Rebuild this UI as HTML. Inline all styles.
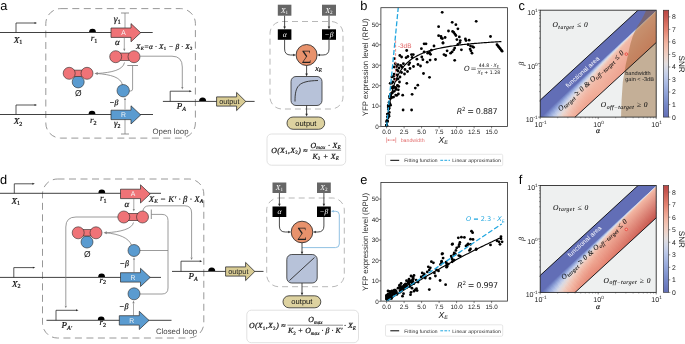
<!DOCTYPE html>
<html><head><meta charset="utf-8"><title>figure</title>
<style>html,body{margin:0;padding:0;background:#fff}svg{display:block;will-change:transform}text{text-rendering:geometricPrecision}</style></head>
<body>
<svg width="685" height="344" viewBox="0 0 685 344">
<rect width="685" height="344" fill="#fff"/>
<text x="0.30" y="10.30" font-family='"Liberation Sans", Arial, Helvetica, sans-serif' font-size="12.8" fill="#000" text-anchor="start"  >a</text>
<rect x="45.80" y="8.60" width="149.60" height="129.50" fill="none" stroke="#7d7d7d" stroke-width="0.8" rx="15" stroke-dasharray="7 4.5"/>
<line x1="0.00" y1="32.50" x2="152.70" y2="32.50" stroke="#2b2b2b" stroke-width="0.9" />
<line x1="0.00" y1="114.50" x2="153.00" y2="114.50" stroke="#2b2b2b" stroke-width="0.9" />
<path d="M16.00,32.50 V23.00 H35.50" stroke="#2b2b2b" stroke-width="0.8" fill="none" />
<polygon points="37.00,23.00 34.59,23.96 34.59,22.04" fill="#2b2b2b"/>
<path d="M16.00,114.50 V105.00 H35.50" stroke="#2b2b2b" stroke-width="0.8" fill="none" />
<polygon points="37.00,105.00 34.59,105.96 34.59,104.04" fill="#2b2b2b"/>
<text x="13.80" y="42.60" font-family='"Liberation Serif", "DejaVu Serif", serif' font-size="9.0" fill="#111" text-anchor="start" font-style="italic"  stroke="#111" stroke-width="0.2">X<tspan dy="1.8" font-size="68%" font-style="normal">1</tspan><tspan dy="-1.8" font-size="1">&#8203;</tspan></text>
<text x="13.80" y="123.80" font-family='"Liberation Serif", "DejaVu Serif", serif' font-size="9.0" fill="#111" text-anchor="start" font-style="italic"  stroke="#111" stroke-width="0.2">X<tspan dy="1.8" font-size="68%" font-style="normal">2</tspan><tspan dy="-1.8" font-size="1">&#8203;</tspan></text>
<path d="M89.10,32.10 A3.4,3.4 0 0 1 95.90,32.10 Z" fill="#000"/>
<path d="M88.60,114.10 A3.4,3.4 0 0 1 95.40,114.10 Z" fill="#000"/>
<text x="90.70" y="41.00" font-family='"Liberation Serif", "DejaVu Serif", serif' font-size="9.0" fill="#111" text-anchor="start" font-style="italic"  stroke="#111" stroke-width="0.2">r<tspan dy="1.8" font-size="68%" font-style="normal">1</tspan><tspan dy="-1.8" font-size="1">&#8203;</tspan></text>
<text x="90.00" y="123.00" font-family='"Liberation Serif", "DejaVu Serif", serif' font-size="9.0" fill="#111" text-anchor="start" font-style="italic"  stroke="#111" stroke-width="0.2">r<tspan dy="1.8" font-size="68%" font-style="normal">2</tspan><tspan dy="-1.8" font-size="1">&#8203;</tspan></text>
<line x1="125.00" y1="13.00" x2="125.00" y2="28.00" stroke="#777" stroke-width="0.7" />
<line x1="121.00" y1="13.00" x2="129.00" y2="13.00" stroke="#777" stroke-width="0.8" />
<line x1="125.00" y1="119.00" x2="125.00" y2="134.00" stroke="#777" stroke-width="0.7" />
<line x1="121.00" y1="134.00" x2="129.00" y2="134.00" stroke="#777" stroke-width="0.8" />
<text x="113.80" y="21.80" font-family='"Liberation Serif", "DejaVu Serif", serif' font-size="9.6" fill="#111" text-anchor="start" font-style="italic"  stroke="#111" stroke-width="0.2">γ<tspan dy="1.8" font-size="68%" font-style="normal">1</tspan><tspan dy="-1.8" font-size="1">&#8203;</tspan></text>
<text x="114.00" y="126.30" font-family='"Liberation Serif", "DejaVu Serif", serif' font-size="8.8" fill="#111" text-anchor="start" font-style="italic"  stroke="#111" stroke-width="0.2">γ<tspan dy="1.8" font-size="68%" font-style="normal">2</tspan><tspan dy="-1.8" font-size="1">&#8203;</tspan></text>
<polygon points="111.00,28.00 131.00,28.00 131.00,23.60 140.70,32.70 131.00,41.80 131.00,37.40 111.00,37.40" fill="#ef7377" stroke="#2b2b2b" stroke-width="0.7" stroke-linejoin="miter"/>
<text x="123.50" y="35.10" font-family='"Liberation Sans", Arial, Helvetica, sans-serif' font-size="6.8" fill="#f4f4f4" text-anchor="middle"  >A</text>
<polygon points="111.00,110.20 131.00,110.20 131.00,105.80 140.70,114.90 131.00,124.00 131.00,119.60 111.00,119.60" fill="#5a9bd0" stroke="#2b2b2b" stroke-width="0.7" stroke-linejoin="miter"/>
<text x="123.50" y="117.30" font-family='"Liberation Sans", Arial, Helvetica, sans-serif' font-size="6.8" fill="#f4f4f4" text-anchor="middle"  >R</text>
<line x1="124.30" y1="37.50" x2="124.30" y2="49.00" stroke="#828282" stroke-width="0.7" />
<polygon points="124.30,51.30 123.16,48.74 125.44,48.74" fill="#828282"/>
<text x="115.00" y="45.00" font-family='"Liberation Serif", "DejaVu Serif", serif' font-size="9.0" fill="#111" text-anchor="start" font-style="italic"  stroke="#111" stroke-width="0.2">α</text>
<path d="M124.5,62.5 C123,70 112,72.5 97,73.5" stroke="#828282" stroke-width="0.8" fill="none" />
<path d="M122.5,85 C121,77 110,74.5 97,73.5" stroke="#828282" stroke-width="0.8" fill="none" />
<polygon points="94.50,73.50 97.74,71.93 97.74,75.07" fill="#828282"/>
<rect x="120.50" y="53.00" width="8.70" height="7.40" fill="#ef7377" stroke="#2b2b2b" stroke-width="0.6" rx="0" />
<circle cx="115.70" cy="56.70" r="6.00" fill="#ef7377" stroke="#2b2b2b" stroke-width="0.6"/>
<circle cx="134.00" cy="56.70" r="6.00" fill="#ef7377" stroke="#2b2b2b" stroke-width="0.6"/>
<text x="136.10" y="48.60" font-family='"Liberation Serif", "DejaVu Serif", serif' font-size="7.3" fill="#111" text-anchor="start" font-style="italic" textLength="56.4" stroke="#111" stroke-width="0.2">X<tspan dy="1.3" font-size="65%">E</tspan><tspan dy="-1.3" font-size="1">&#8203;</tspan>=α · X<tspan dy="1.3" font-size="65%" font-style="normal">1</tspan><tspan dy="-1.3" font-size="1">&#8203;</tspan> − β · X<tspan dy="1.3" font-size="65%" font-style="normal">2</tspan><tspan dy="-1.3" font-size="1">&#8203;</tspan></text>
<path d="M139,56.2 H172 Q182.3,56.2 182.3,67 V87" stroke="#828282" stroke-width="0.8" fill="none" />
<polygon points="182.30,89.60 181.16,87.04 183.44,87.04" fill="#828282"/>
<path d="M128.6,91 H130.5 Q132.6,91 132.6,89 V65.5" stroke="#828282" stroke-width="0.8" fill="none" />
<line x1="127.30" y1="65.50" x2="138.00" y2="65.50" stroke="#828282" stroke-width="0.9" />
<circle cx="123.20" cy="90.70" r="6.20" fill="#5a9bd0" stroke="#2b2b2b" stroke-width="0.6"/>
<line x1="125.00" y1="109.50" x2="125.00" y2="100.00" stroke="#828282" stroke-width="0.7" />
<polygon points="125.00,97.50 126.14,100.06 123.86,100.06" fill="#828282"/>
<text x="109.30" y="104.50" font-family='"Liberation Serif", "DejaVu Serif", serif' font-size="7.8" fill="#111" text-anchor="start" font-style="italic"  stroke="#111" stroke-width="0.2">−β</text>
<circle cx="78.20" cy="81.90" r="6.00" fill="#5a9bd0" stroke="#2b2b2b" stroke-width="0.6"/>
<rect x="74.00" y="70.10" width="8.20" height="6.40" fill="#ef7377" stroke="#2b2b2b" stroke-width="0.6" rx="0" />
<circle cx="69.20" cy="73.30" r="6.00" fill="#ef7377" stroke="#2b2b2b" stroke-width="0.6"/>
<circle cx="87.00" cy="73.30" r="6.00" fill="#ef7377" stroke="#2b2b2b" stroke-width="0.6"/>
<text x="78.30" y="96.30" font-family='"Liberation Sans", Arial, Helvetica, sans-serif' font-size="8.5" fill="#111" text-anchor="middle"  >Ø</text>
<line x1="162.90" y1="101.40" x2="254.60" y2="101.40" stroke="#2b2b2b" stroke-width="0.9" />
<path d="M170.20,101.40 V91.20 H190.30" stroke="#2b2b2b" stroke-width="0.8" fill="none" />
<polygon points="191.80,91.20 189.39,92.16 189.39,90.24" fill="#2b2b2b"/>
<text x="176.80" y="109.30" font-family='"Liberation Serif", "DejaVu Serif", serif' font-size="9.0" fill="#111" text-anchor="start" font-style="italic"  stroke="#111" stroke-width="0.2">P<tspan dy="1.8" font-size="68%">A</tspan><tspan dy="-1.8" font-size="1">&#8203;</tspan></text>
<path d="M199.10,101.00 A3.5,3.5 0 0 1 206.10,101.00 Z" fill="#000"/>
<polygon points="216.60,96.90 236.60,96.90 236.60,92.40 245.80,101.50 236.60,110.60 236.60,106.10 216.60,106.10" fill="#d9cc94" stroke="#2b2b2b" stroke-width="0.8"/>
<text x="229.30" y="103.90" font-family='"Liberation Sans", Arial, Helvetica, sans-serif' font-size="7.3" fill="#222" text-anchor="middle"  >output</text>
<text x="152.50" y="134.00" font-family='"Liberation Sans", Arial, Helvetica, sans-serif' font-size="7.8" fill="#444" text-anchor="start"  >Open loop</text>
<rect x="270.00" y="21.50" width="73.00" height="87.50" fill="none" stroke="#9a9a9a" stroke-width="0.7" rx="12" stroke-dasharray="6 4"/>
<rect x="277.80" y="4.70" width="13.60" height="11.00" fill="#666" stroke="none" stroke-width="0.6" rx="0" />
<text x="284.60" y="12.60" font-family='"Liberation Serif", "DejaVu Serif", serif' font-size="7.5" fill="#fff" text-anchor="middle" font-style="italic" >X<tspan dy="1.3" font-size="68%" font-style="normal">1</tspan><tspan dy="-1.3" font-size="1">&#8203;</tspan></text>
<rect x="322.00" y="4.70" width="14.00" height="11.00" fill="#666" stroke="none" stroke-width="0.6" rx="0" />
<text x="329.00" y="12.60" font-family='"Liberation Serif", "DejaVu Serif", serif' font-size="7.5" fill="#fff" text-anchor="middle" font-style="italic" >X<tspan dy="1.3" font-size="68%" font-style="normal">2</tspan><tspan dy="-1.3" font-size="1">&#8203;</tspan></text>
<rect x="277.80" y="29.30" width="13.60" height="10.50" fill="#000" stroke="none" stroke-width="0.6" rx="0" />
<text x="284.60" y="36.95" font-family='"Liberation Serif", "DejaVu Serif", serif' font-size="7.5" fill="#fff" text-anchor="middle" font-style="italic" >α</text>
<rect x="322.00" y="29.30" width="14.00" height="10.50" fill="#000" stroke="none" stroke-width="0.6" rx="0" />
<text x="329.00" y="36.95" font-family='"Liberation Serif", "DejaVu Serif", serif' font-size="7.5" fill="#fff" text-anchor="middle" font-style="italic" >−β</text>
<line x1="284.60" y1="15.70" x2="284.60" y2="27.00" stroke="#2b2b2b" stroke-width="0.85" />
<polygon points="284.60,29.30 283.34,26.47 285.86,26.47" fill="#2b2b2b"/>
<line x1="329.00" y1="15.70" x2="329.00" y2="27.00" stroke="#2b2b2b" stroke-width="0.85" />
<polygon points="329.00,29.30 327.74,26.47 330.26,26.47" fill="#2b2b2b"/>
<path d="M284.6,39.8 V49 Q284.6,55 290.6,55 H293.5" stroke="#2b2b2b" stroke-width="0.85" fill="none" />
<polygon points="296.00,55.00 293.17,56.26 293.17,53.74" fill="#2b2b2b"/>
<path d="M329,39.8 V49 Q329,55 323,55 H319.6" stroke="#2b2b2b" stroke-width="0.85" fill="none" />
<polygon points="317.20,55.00 320.03,53.74 320.03,56.26" fill="#2b2b2b"/>
<circle cx="306.60" cy="55.00" r="10.50" fill="#e8926c" stroke="#2b2b2b" stroke-width="0.85"/>
<text x="306.60" y="60.00" font-family='"Liberation Serif", "DejaVu Serif", serif' font-size="14" fill="#222" text-anchor="middle"  >∑</text>
<line x1="306.60" y1="65.50" x2="306.60" y2="74.00" stroke="#2b2b2b" stroke-width="0.85" />
<polygon points="306.60,76.40 305.34,73.57 307.86,73.57" fill="#2b2b2b"/>
<text x="315.30" y="70.80" font-family='"Liberation Serif", "DejaVu Serif", serif' font-size="8" fill="#111" text-anchor="start" font-style="italic"  stroke="#111" stroke-width="0.2">x<tspan dy="1.3" font-size="65%">E</tspan><tspan dy="-1.3" font-size="1">&#8203;</tspan></text>
<rect x="291.00" y="76.50" width="31.00" height="29.00" fill="#b7c2d9" stroke="#2b2b2b" stroke-width="0.8" rx="5" />
<path d="M295,101.5 C295,86 298,81 318,80.5" stroke="#2b2b2b" stroke-width="0.9" fill="none" />
<line x1="306.60" y1="105.50" x2="306.60" y2="114.00" stroke="#2b2b2b" stroke-width="0.85" />
<polygon points="306.60,116.50 305.34,113.67 307.86,113.67" fill="#2b2b2b"/>
<rect x="287.00" y="117.00" width="37.70" height="12.30" fill="#ddd2a0" stroke="#2b2b2b" stroke-width="0.8" rx="6.1" />
<text x="305.90" y="125.60" font-family='"Liberation Sans", Arial, Helvetica, sans-serif' font-size="7.6" fill="#111" text-anchor="middle"  >output</text>
<rect x="267.00" y="134.00" width="78.70" height="31.20" fill="#fff" stroke="#d9d9d9" stroke-width="0.8" rx="4.5" />
<text x="271.30" y="152.80" font-family='"Liberation Serif", "DejaVu Serif", serif' font-size="7.8" fill="#111" text-anchor="start" font-style="italic" textLength="36.3" stroke="#111" stroke-width="0.2">O(X<tspan dy="1.4" font-size="65%" font-style="normal">1</tspan><tspan dy="-1.4" font-size="1">&#8203;</tspan>,X<tspan dy="1.4" font-size="65%" font-style="normal">2</tspan><tspan dy="-1.4" font-size="1">&#8203;</tspan>) ≈</text>
<line x1="310.20" y1="150.20" x2="341.10" y2="150.20" stroke="#222" stroke-width="0.5" />
<text x="325.70" y="147.60" font-family='"Liberation Serif", "DejaVu Serif", serif' font-size="7.8" fill="#111" text-anchor="middle" font-style="italic" textLength="30.5" stroke="#111" stroke-width="0.2">O<tspan dy="1.3" font-size="65%">max</tspan><tspan dy="-1.3" font-size="1">&#8203;</tspan> · X<tspan dy="1.3" font-size="65%">E</tspan><tspan dy="-1.3" font-size="1">&#8203;</tspan></text>
<text x="325.70" y="158.60" font-family='"Liberation Serif", "DejaVu Serif", serif' font-size="7.8" fill="#111" text-anchor="middle" font-style="italic" textLength="26.5" stroke="#111" stroke-width="0.2">K<tspan dy="1.3" font-size="65%" font-style="normal">2</tspan><tspan dy="-1.3" font-size="1">&#8203;</tspan> + X<tspan dy="1.3" font-size="65%">E</tspan><tspan dy="-1.3" font-size="1">&#8203;</tspan></text>
<text x="360.20" y="9.60" font-family='"Liberation Sans", Arial, Helvetica, sans-serif' font-size="12.8" fill="#000" text-anchor="start"  >b</text>
<clipPath id="clipb"><rect x="380.9" y="7.7" width="126.70000000000005" height="118.7"/></clipPath>
<line x1="386.60" y1="126.40" x2="386.60" y2="128.40" stroke="#2b2b2b" stroke-width="0.6" />
<text x="386.60" y="134.30" font-family='"Liberation Sans", Arial, Helvetica, sans-serif' font-size="6.3" fill="#222" text-anchor="middle"  >0.0</text>
<line x1="404.10" y1="126.40" x2="404.10" y2="128.40" stroke="#2b2b2b" stroke-width="0.6" />
<text x="404.10" y="134.30" font-family='"Liberation Sans", Arial, Helvetica, sans-serif' font-size="6.3" fill="#222" text-anchor="middle"  >2.5</text>
<line x1="421.60" y1="126.40" x2="421.60" y2="128.40" stroke="#2b2b2b" stroke-width="0.6" />
<text x="421.60" y="134.30" font-family='"Liberation Sans", Arial, Helvetica, sans-serif' font-size="6.3" fill="#222" text-anchor="middle"  >5.0</text>
<line x1="439.10" y1="126.40" x2="439.10" y2="128.40" stroke="#2b2b2b" stroke-width="0.6" />
<text x="439.10" y="134.30" font-family='"Liberation Sans", Arial, Helvetica, sans-serif' font-size="6.3" fill="#222" text-anchor="middle"  >7.5</text>
<line x1="456.60" y1="126.40" x2="456.60" y2="128.40" stroke="#2b2b2b" stroke-width="0.6" />
<text x="456.60" y="134.30" font-family='"Liberation Sans", Arial, Helvetica, sans-serif' font-size="6.3" fill="#222" text-anchor="middle"  >10.0</text>
<line x1="474.10" y1="126.40" x2="474.10" y2="128.40" stroke="#2b2b2b" stroke-width="0.6" />
<text x="474.10" y="134.30" font-family='"Liberation Sans", Arial, Helvetica, sans-serif' font-size="6.3" fill="#222" text-anchor="middle"  >12.5</text>
<line x1="491.60" y1="126.40" x2="491.60" y2="128.40" stroke="#2b2b2b" stroke-width="0.6" />
<text x="491.60" y="134.30" font-family='"Liberation Sans", Arial, Helvetica, sans-serif' font-size="6.3" fill="#222" text-anchor="middle"  >15.0</text>
<line x1="378.90" y1="126.60" x2="380.90" y2="126.60" stroke="#2b2b2b" stroke-width="0.6" />
<text x="378.70" y="128.90" font-family='"Liberation Sans", Arial, Helvetica, sans-serif' font-size="6.3" fill="#222" text-anchor="end"  >0</text>
<line x1="378.90" y1="106.15" x2="380.90" y2="106.15" stroke="#2b2b2b" stroke-width="0.6" />
<text x="378.70" y="108.45" font-family='"Liberation Sans", Arial, Helvetica, sans-serif' font-size="6.3" fill="#222" text-anchor="end"  >10</text>
<line x1="378.90" y1="85.70" x2="380.90" y2="85.70" stroke="#2b2b2b" stroke-width="0.6" />
<text x="378.70" y="88.00" font-family='"Liberation Sans", Arial, Helvetica, sans-serif' font-size="6.3" fill="#222" text-anchor="end"  >20</text>
<line x1="378.90" y1="65.25" x2="380.90" y2="65.25" stroke="#2b2b2b" stroke-width="0.6" />
<text x="378.70" y="67.55" font-family='"Liberation Sans", Arial, Helvetica, sans-serif' font-size="6.3" fill="#222" text-anchor="end"  >30</text>
<line x1="378.90" y1="44.80" x2="380.90" y2="44.80" stroke="#2b2b2b" stroke-width="0.6" />
<text x="378.70" y="47.10" font-family='"Liberation Sans", Arial, Helvetica, sans-serif' font-size="6.3" fill="#222" text-anchor="end"  >40</text>
<line x1="378.90" y1="24.35" x2="380.90" y2="24.35" stroke="#2b2b2b" stroke-width="0.6" />
<text x="378.70" y="26.65" font-family='"Liberation Sans", Arial, Helvetica, sans-serif' font-size="6.3" fill="#222" text-anchor="end"  >50</text>
<g clip-path="url(#clipb)" fill="#000">
<circle cx="392.5" cy="92.7" r="1.4"/>
<circle cx="398.1" cy="78.8" r="1.4"/>
<circle cx="386.6" cy="125.2" r="1.4"/>
<circle cx="392.9" cy="81.9" r="1.4"/>
<circle cx="390.4" cy="94.1" r="1.4"/>
<circle cx="391.8" cy="83.2" r="1.4"/>
<circle cx="388.2" cy="107.1" r="1.4"/>
<circle cx="387.3" cy="120.7" r="1.4"/>
<circle cx="392.4" cy="87.1" r="1.4"/>
<circle cx="396.7" cy="69.9" r="1.4"/>
<circle cx="398.4" cy="94.0" r="1.4"/>
<circle cx="387.6" cy="114.1" r="1.4"/>
<circle cx="389.1" cy="102.3" r="1.4"/>
<circle cx="386.8" cy="121.9" r="1.4"/>
<circle cx="388.5" cy="109.3" r="1.4"/>
<circle cx="388.6" cy="115.9" r="1.4"/>
<circle cx="386.7" cy="125.2" r="1.4"/>
<circle cx="394.5" cy="79.1" r="1.4"/>
<circle cx="395.2" cy="87.5" r="1.4"/>
<circle cx="386.6" cy="126.1" r="1.4"/>
<circle cx="389.0" cy="116.3" r="1.4"/>
<circle cx="386.9" cy="121.4" r="1.4"/>
<circle cx="397.6" cy="85.8" r="1.4"/>
<circle cx="391.4" cy="93.4" r="1.4"/>
<circle cx="387.4" cy="116.8" r="1.4"/>
<circle cx="393.5" cy="76.3" r="1.4"/>
<circle cx="386.7" cy="125.4" r="1.4"/>
<circle cx="389.6" cy="97.9" r="1.4"/>
<circle cx="395.9" cy="89.6" r="1.4"/>
<circle cx="386.7" cy="125.5" r="1.4"/>
<circle cx="390.7" cy="94.4" r="1.4"/>
<circle cx="387.2" cy="121.3" r="1.4"/>
<circle cx="390.2" cy="83.3" r="1.4"/>
<circle cx="398.7" cy="86.4" r="1.4"/>
<circle cx="394.2" cy="91.3" r="1.4"/>
<circle cx="389.6" cy="96.2" r="1.4"/>
<circle cx="390.7" cy="96.4" r="1.4"/>
<circle cx="388.2" cy="115.0" r="1.4"/>
<circle cx="389.1" cy="107.0" r="1.4"/>
<circle cx="393.6" cy="97.1" r="1.4"/>
<circle cx="389.1" cy="108.3" r="1.4"/>
<circle cx="390.6" cy="98.4" r="1.4"/>
<circle cx="388.4" cy="105.2" r="1.4"/>
<circle cx="391.9" cy="76.9" r="1.4"/>
<circle cx="388.0" cy="117.8" r="1.4"/>
<circle cx="395.7" cy="95.1" r="1.4"/>
<circle cx="388.9" cy="115.1" r="1.4"/>
<circle cx="395.9" cy="88.2" r="1.4"/>
<circle cx="396.7" cy="95.4" r="1.4"/>
<circle cx="398.3" cy="89.8" r="1.4"/>
<circle cx="387.3" cy="121.8" r="1.4"/>
<circle cx="390.5" cy="105.2" r="1.4"/>
<circle cx="394.2" cy="67.0" r="1.4"/>
<circle cx="391.9" cy="97.5" r="1.4"/>
<circle cx="392.5" cy="88.3" r="1.4"/>
<circle cx="394.1" cy="74.1" r="1.4"/>
<circle cx="390.0" cy="103.9" r="1.4"/>
<circle cx="393.5" cy="86.5" r="1.4"/>
<circle cx="390.4" cy="96.0" r="1.4"/>
<circle cx="387.1" cy="120.3" r="1.4"/>
<circle cx="387.5" cy="114.1" r="1.4"/>
<circle cx="389.3" cy="112.4" r="1.4"/>
<circle cx="442.2" cy="12.3" r="1.4"/>
<circle cx="438.6" cy="26.7" r="1.4"/>
<circle cx="438.6" cy="35.7" r="1.4"/>
<circle cx="441.3" cy="38.1" r="1.4"/>
<circle cx="443.0" cy="42.9" r="1.4"/>
<circle cx="424.1" cy="43.8" r="1.4"/>
<circle cx="426.0" cy="43.8" r="1.4"/>
<circle cx="421.4" cy="48.7" r="1.4"/>
<circle cx="406.7" cy="50.5" r="1.4"/>
<circle cx="434.0" cy="46.0" r="1.4"/>
<circle cx="431.4" cy="50.1" r="1.4"/>
<circle cx="429.5" cy="52.5" r="1.4"/>
<circle cx="424.1" cy="52.0" r="1.4"/>
<circle cx="427.7" cy="53.2" r="1.4"/>
<circle cx="430.5" cy="54.3" r="1.4"/>
<circle cx="399.8" cy="55.5" r="1.4"/>
<circle cx="401.6" cy="57.0" r="1.4"/>
<circle cx="406.1" cy="57.7" r="1.4"/>
<circle cx="407.9" cy="56.5" r="1.4"/>
<circle cx="411.5" cy="54.6" r="1.4"/>
<circle cx="413.3" cy="54.6" r="1.4"/>
<circle cx="412.1" cy="57.4" r="1.4"/>
<circle cx="416.9" cy="59.2" r="1.4"/>
<circle cx="421.8" cy="57.0" r="1.4"/>
<circle cx="422.9" cy="59.7" r="1.4"/>
<circle cx="394.4" cy="58.6" r="1.4"/>
<circle cx="427.2" cy="62.2" r="1.4"/>
<circle cx="430.1" cy="60.1" r="1.4"/>
<circle cx="435.5" cy="59.5" r="1.4"/>
<circle cx="444.0" cy="54.6" r="1.4"/>
<circle cx="395.3" cy="63.7" r="1.4"/>
<circle cx="398.0" cy="64.6" r="1.4"/>
<circle cx="400.7" cy="65.5" r="1.4"/>
<circle cx="403.4" cy="63.7" r="1.4"/>
<circle cx="409.7" cy="62.8" r="1.4"/>
<circle cx="408.8" cy="64.6" r="1.4"/>
<circle cx="423.5" cy="73.5" r="1.4"/>
<circle cx="429.5" cy="77.3" r="1.4"/>
<circle cx="406.8" cy="83.3" r="1.4"/>
<circle cx="417.8" cy="85.2" r="1.4"/>
<circle cx="415.3" cy="88.1" r="1.4"/>
<circle cx="412.1" cy="94.3" r="1.4"/>
<circle cx="402.7" cy="95.2" r="1.4"/>
<circle cx="403.1" cy="110.0" r="1.4"/>
<circle cx="411.6" cy="110.0" r="1.4"/>
<circle cx="476.2" cy="21.3" r="1.4"/>
<circle cx="452.2" cy="22.3" r="1.4"/>
<circle cx="455.9" cy="24.7" r="1.4"/>
<circle cx="457.9" cy="28.8" r="1.4"/>
<circle cx="448.5" cy="31.0" r="1.4"/>
<circle cx="452.6" cy="31.4" r="1.4"/>
<circle cx="453.8" cy="32.5" r="1.4"/>
<circle cx="454.9" cy="34.1" r="1.4"/>
<circle cx="455.9" cy="35.5" r="1.4"/>
<circle cx="441.0" cy="36.5" r="1.4"/>
<circle cx="442.4" cy="38.6" r="1.4"/>
<circle cx="445.1" cy="37.5" r="1.4"/>
<circle cx="459.3" cy="36.9" r="1.4"/>
<circle cx="456.9" cy="39.6" r="1.4"/>
<circle cx="460.3" cy="40.6" r="1.4"/>
<circle cx="459.9" cy="42.6" r="1.4"/>
<circle cx="465.4" cy="39.0" r="1.4"/>
<circle cx="466.0" cy="40.6" r="1.4"/>
<circle cx="469.1" cy="40.2" r="1.4"/>
<circle cx="490.5" cy="36.5" r="1.4"/>
<circle cx="443.0" cy="43.0" r="1.4"/>
<circle cx="457.9" cy="44.3" r="1.4"/>
<circle cx="468.1" cy="44.7" r="1.4"/>
<circle cx="470.5" cy="46.1" r="1.4"/>
<circle cx="472.6" cy="46.7" r="1.4"/>
<circle cx="473.6" cy="47.3" r="1.4"/>
<circle cx="454.7" cy="48.1" r="1.4"/>
<circle cx="453.8" cy="49.8" r="1.4"/>
<circle cx="452.2" cy="51.8" r="1.4"/>
<circle cx="450.6" cy="53.2" r="1.4"/>
<circle cx="447.1" cy="50.8" r="1.4"/>
<circle cx="461.4" cy="49.8" r="1.4"/>
<circle cx="470.1" cy="49.1" r="1.4"/>
<circle cx="470.9" cy="50.8" r="1.4"/>
<circle cx="472.0" cy="53.2" r="1.4"/>
<circle cx="445.7" cy="55.5" r="1.4"/>
<circle cx="454.7" cy="60.3" r="1.4"/>
<circle cx="497.0" cy="44.7" r="1.4"/>
<circle cx="497.9" cy="45.8" r="1.4"/>
<circle cx="498.7" cy="46.9" r="1.4"/>
<circle cx="499.6" cy="48.0" r="1.4"/>
<circle cx="500.4" cy="49.0" r="1.4"/>
<circle cx="501.3" cy="50.1" r="1.4"/>
<circle cx="502.1" cy="51.2" r="1.4"/>
<circle cx="396.5" cy="66.5" r="1.4"/>
<circle cx="399.0" cy="68.0" r="1.4"/>
<circle cx="402.0" cy="67.0" r="1.4"/>
<circle cx="405.0" cy="69.5" r="1.4"/>
<circle cx="398.0" cy="71.0" r="1.4"/>
<circle cx="401.5" cy="72.5" r="1.4"/>
<circle cx="404.5" cy="74.0" r="1.4"/>
<circle cx="407.5" cy="71.5" r="1.4"/>
<circle cx="397.0" cy="75.0" r="1.4"/>
<circle cx="400.0" cy="77.0" r="1.4"/>
<circle cx="410.0" cy="68.5" r="1.4"/>
<circle cx="413.5" cy="66.5" r="1.4"/>
<circle cx="418.0" cy="64.5" r="1.4"/>
<circle cx="420.5" cy="66.0" r="1.4"/>
<circle cx="396.2" cy="80.0" r="1.4"/>
<circle cx="399.5" cy="82.0" r="1.4"/>
<circle cx="397.5" cy="85.5" r="1.4"/>
</g>
<path d="M386.60,126.60 L388.00,114.22 L389.40,104.79 L390.80,97.36 L392.20,91.36 L393.60,86.42 L395.00,82.27 L396.40,78.74 L397.80,75.70 L399.20,73.06 L400.60,70.74 L402.00,68.68 L403.40,66.85 L404.80,65.21 L406.20,63.73 L407.60,62.38 L409.00,61.16 L410.40,60.04 L411.80,59.01 L413.20,58.07 L414.60,57.19 L416.00,56.38 L417.40,55.63 L418.80,54.93 L420.20,54.27 L421.60,53.66 L423.00,53.08 L424.40,52.54 L425.80,52.03 L427.20,51.55 L428.60,51.09 L430.00,50.66 L431.40,50.25 L432.80,49.87 L434.20,49.50 L435.60,49.15 L437.00,48.81 L438.40,48.49 L439.80,48.19 L441.20,47.90 L442.60,47.62 L444.00,47.35 L445.40,47.10 L446.80,46.85 L448.20,46.62 L449.60,46.39 L451.00,46.17 L452.40,45.96 L453.80,45.76 L455.20,45.57 L456.60,45.38 L458.00,45.20 L459.40,45.02 L460.80,44.86 L462.20,44.69 L463.60,44.53 L465.00,44.38 L466.40,44.23 L467.80,44.09 L469.20,43.95 L470.60,43.81 L472.00,43.68 L473.40,43.56 L474.80,43.43 L476.20,43.31 L477.60,43.20 L479.00,43.08 L480.40,42.97 L481.80,42.86 L483.20,42.76 L484.60,42.66 L486.00,42.56 L487.40,42.46 L488.80,42.37 L490.20,42.28 L491.60,42.19 L493.00,42.10 L494.40,42.01 L495.80,41.93 L497.20,41.85 L498.60,41.77 L500.00,41.69 L501.40,41.62" stroke="#000" stroke-width="1.15" fill="none" clip-path="url(#clipb)"/>
<line x1="386.60" y1="126.60" x2="398.29" y2="7.17" stroke="#22a7e0" stroke-width="1.3" stroke-dasharray="5 2.2" clip-path="url(#clipb)"/>
<line x1="395.60" y1="81.00" x2="395.60" y2="40.20" stroke="#e36f6f" stroke-width="0.8" stroke-dasharray="2.6 1.6"/>
<text x="397.90" y="47.90" font-family='"Liberation Sans", Arial, Helvetica, sans-serif' font-size="6.4" fill="#e26868" text-anchor="start"  >-3dB</text>
<text x="400.70" y="142.30" font-family='"Liberation Sans", Arial, Helvetica, sans-serif' font-size="5.25" fill="#e36f6f" text-anchor="start"  >bandwidth</text>
<line x1="386.60" y1="137.40" x2="386.60" y2="142.80" stroke="#e36f6f" stroke-width="0.6" />
<line x1="395.70" y1="137.40" x2="395.70" y2="142.80" stroke="#e36f6f" stroke-width="0.6" />
<line x1="388.00" y1="140.10" x2="394.20" y2="140.10" stroke="#e36f6f" stroke-width="0.6" />
<polygon points="387.10,140.10 388.86,139.14 388.86,141.06" fill="#e36f6f"/>
<polygon points="395.20,140.10 393.44,141.06 393.44,139.14" fill="#e36f6f"/>
<text x="464.00" y="70.60" font-family='"DejaVu Sans", "Liberation Sans", sans-serif' font-size="7.2" fill="#222" text-anchor="start" font-style="oblique" >O</text>
<text x="470.60" y="70.60" font-family='"DejaVu Sans", "Liberation Sans", sans-serif' font-size="7.2" fill="#222" text-anchor="start"  >=</text>
<line x1="477.00" y1="68.70" x2="500.60" y2="68.70" stroke="#222" stroke-width="0.45" />
<text x="488.80" y="66.70" font-family='"DejaVu Sans", "Liberation Sans", sans-serif' font-size="4.7" fill="#222" text-anchor="middle"  >44.8 · <tspan font-style="oblique">X</tspan><tspan dy="0.8" font-size="70%">E</tspan><tspan dy="-0.8" font-size="1">&#8203;</tspan></text>
<text x="488.80" y="74.00" font-family='"DejaVu Sans", "Liberation Sans", sans-serif' font-size="4.7" fill="#222" text-anchor="middle"  ><tspan font-style="oblique">X</tspan><tspan dy="0.8" font-size="70%">E</tspan><tspan dy="-0.8" font-size="1">&#8203;</tspan> + 1.28</text>
<text x="456.70" y="114.00" font-family='"DejaVu Sans", "Liberation Sans", sans-serif' font-size="8" fill="#222" text-anchor="start"  textLength="40.9"><tspan font-style="oblique">R</tspan><tspan dy="-3" font-size="70%">2</tspan><tspan dy="3" font-size="1">&#8203;</tspan> = 0.887</text>
<rect x="380.90" y="7.70" width="126.70" height="118.70" fill="none" stroke="#2b2b2b" stroke-width="0.8" rx="0" />
<text x="443.30" y="142.80" font-family='"Liberation Sans", Arial, Helvetica, sans-serif' font-size="8.7" fill="#222" text-anchor="middle" font-style="italic" >X<tspan dy="1.4" font-size="64%">E</tspan><tspan dy="-1.4" font-size="1">&#8203;</tspan></text>
<text transform="translate(368.2,67.3) rotate(-90)" font-family='"Liberation Sans", Arial, Helvetica, sans-serif' font-size="7.9" fill="#333" text-anchor="middle">YFP expression level (RPU)</text>
<rect x="385.50" y="154.30" width="117.20" height="11.40" fill="#fff" stroke="#dcdcdc" stroke-width="0.7" rx="1.2" />
<line x1="390.30" y1="160.30" x2="399.20" y2="160.30" stroke="#000" stroke-width="1.0" />
<text x="404.20" y="162.30" font-family='"Liberation Sans", Arial, Helvetica, sans-serif' font-size="4.9" fill="#222" text-anchor="start"  textLength="33.3">Fitting function</text>
<line x1="440.30" y1="160.30" x2="450.00" y2="160.30" stroke="#22a7e0" stroke-width="1.0" stroke-dasharray="2.8 1.3"/>
<text x="452.30" y="162.30" font-family='"Liberation Sans", Arial, Helvetica, sans-serif' font-size="4.9" fill="#222" text-anchor="start"  textLength="48.5">Linear approximation</text>
<text x="518.50" y="9.80" font-family='"Liberation Sans", Arial, Helvetica, sans-serif' font-size="12.8" fill="#000" text-anchor="start"  >c</text>
<clipPath id="hcc"><rect x="540.2" y="10.2" width="116.0" height="106.89999999999999"/></clipPath>
<g clip-path="url(#hcc)">
<rect x="540.20" y="10.20" width="116.00" height="106.90" fill="#eef0f0" stroke="none" stroke-width="0.6" rx="0" />
<polygon points="528.42,110.93 650.64,-1.40 675.09,25.21 552.87,137.53" fill="#626eb6"/>
<g shape-rendering="crispEdges">
<linearGradient id="gc0" gradientUnits="userSpaceOnUse" x1="540.20" y1="100.10" x2="564.65" y2="126.70"><stop offset="0.000" stop-color="#626eb6"/><stop offset="0.365" stop-color="#626eb6"/><stop offset="0.425" stop-color="#7283c4"/><stop offset="0.491" stop-color="#8698d2"/><stop offset="0.567" stop-color="#9eafde"/><stop offset="0.667" stop-color="#bcc8e8"/><stop offset="0.793" stop-color="#dadce6"/><stop offset="0.945" stop-color="#ecd4cc"/><stop offset="1.000" stop-color="#f0d0c3"/></linearGradient>
<polygon points="528.42,110.93 531.93,107.70 556.38,134.30 552.87,137.53" fill="url(#gc0)"/>
<linearGradient id="gc1" gradientUnits="userSpaceOnUse" x1="540.20" y1="100.10" x2="564.65" y2="126.70"><stop offset="0.000" stop-color="#626eb6"/><stop offset="0.361" stop-color="#626eb6"/><stop offset="0.418" stop-color="#7282c4"/><stop offset="0.479" stop-color="#8698d2"/><stop offset="0.550" stop-color="#9dafde"/><stop offset="0.644" stop-color="#bbc7e8"/><stop offset="0.762" stop-color="#dadce6"/><stop offset="0.904" stop-color="#ecd5cd"/><stop offset="1.000" stop-color="#f0cbbd"/></linearGradient>
<polygon points="531.20,108.37 534.71,105.14 559.16,131.75 555.65,134.98" fill="url(#gc1)"/>
<linearGradient id="gc2" gradientUnits="userSpaceOnUse" x1="540.20" y1="100.10" x2="564.65" y2="126.70"><stop offset="0.000" stop-color="#626eb6"/><stop offset="0.357" stop-color="#626eb6"/><stop offset="0.408" stop-color="#7282c4"/><stop offset="0.464" stop-color="#8598d1"/><stop offset="0.528" stop-color="#9daede"/><stop offset="0.614" stop-color="#bac7e8"/><stop offset="0.722" stop-color="#d9dbe6"/><stop offset="0.850" stop-color="#ebd5ce"/><stop offset="1.000" stop-color="#f1c5b6"/></linearGradient>
<polygon points="533.97,105.82 537.49,102.59 561.94,129.20 558.42,132.43" fill="url(#gc2)"/>
<linearGradient id="gc3" gradientUnits="userSpaceOnUse" x1="540.20" y1="100.10" x2="564.65" y2="126.70"><stop offset="0.000" stop-color="#626eb6"/><stop offset="0.353" stop-color="#626eb6"/><stop offset="0.400" stop-color="#7182c4"/><stop offset="0.451" stop-color="#8597d1"/><stop offset="0.509" stop-color="#9caede"/><stop offset="0.588" stop-color="#b9c6e8"/><stop offset="0.685" stop-color="#d7dae6"/><stop offset="0.803" stop-color="#ebd6cf"/><stop offset="0.939" stop-color="#f1c6b7"/><stop offset="1.000" stop-color="#f1bfaf"/></linearGradient>
<polygon points="536.75,103.27 540.27,100.04 564.72,126.64 561.20,129.87" fill="url(#gc3)"/>
<linearGradient id="gc4" gradientUnits="userSpaceOnUse" x1="540.20" y1="100.10" x2="564.65" y2="126.70"><stop offset="0.000" stop-color="#626eb6"/><stop offset="0.350" stop-color="#626eb6"/><stop offset="0.393" stop-color="#7182c4"/><stop offset="0.439" stop-color="#8597d1"/><stop offset="0.493" stop-color="#9baddd"/><stop offset="0.564" stop-color="#b8c6e8"/><stop offset="0.653" stop-color="#d6d9e6"/><stop offset="0.760" stop-color="#ead7d1"/><stop offset="0.884" stop-color="#f1c7b9"/><stop offset="1.000" stop-color="#f1baa8"/></linearGradient>
<polygon points="539.53,100.72 543.04,97.49 567.49,124.09 563.98,127.32" fill="url(#gc4)"/>
<linearGradient id="gc5" gradientUnits="userSpaceOnUse" x1="540.20" y1="100.10" x2="564.65" y2="126.70"><stop offset="0.000" stop-color="#626eb6"/><stop offset="0.348" stop-color="#626eb6"/><stop offset="0.387" stop-color="#7182c4"/><stop offset="0.429" stop-color="#8497d1"/><stop offset="0.478" stop-color="#9baddd"/><stop offset="0.543" stop-color="#b7c5e8"/><stop offset="0.624" stop-color="#d5d9e6"/><stop offset="0.721" stop-color="#e9d8d2"/><stop offset="0.834" stop-color="#f1c8ba"/><stop offset="1.000" stop-color="#f2b6a3"/></linearGradient>
<polygon points="542.31,98.16 545.82,94.93 570.27,121.54 566.76,124.77" fill="url(#gc5)"/>
<linearGradient id="gc6" gradientUnits="userSpaceOnUse" x1="540.20" y1="100.10" x2="564.65" y2="126.70"><stop offset="0.000" stop-color="#626eb6"/><stop offset="0.346" stop-color="#626eb6"/><stop offset="0.382" stop-color="#7182c4"/><stop offset="0.420" stop-color="#8496d1"/><stop offset="0.464" stop-color="#9aacdd"/><stop offset="0.523" stop-color="#b6c4e8"/><stop offset="0.597" stop-color="#d4d8e6"/><stop offset="0.686" stop-color="#e9d9d4"/><stop offset="0.789" stop-color="#f0cabc"/><stop offset="0.936" stop-color="#f2b8a5"/><stop offset="1.000" stop-color="#f2b29e"/></linearGradient>
<polygon points="545.09,95.61 548.60,92.38 573.05,118.98 569.54,122.21" fill="url(#gc6)"/>
<linearGradient id="gc7" gradientUnits="userSpaceOnUse" x1="540.20" y1="100.10" x2="564.65" y2="126.70"><stop offset="0.000" stop-color="#626eb6"/><stop offset="0.345" stop-color="#626eb6"/><stop offset="0.377" stop-color="#7181c3"/><stop offset="0.412" stop-color="#8396d0"/><stop offset="0.453" stop-color="#99abdc"/><stop offset="0.506" stop-color="#b5c3e8"/><stop offset="0.573" stop-color="#d2d7e6"/><stop offset="0.654" stop-color="#e8dad6"/><stop offset="0.748" stop-color="#f0cbbe"/><stop offset="0.882" stop-color="#f2b9a7"/><stop offset="1.000" stop-color="#f1ad9a"/></linearGradient>
<polygon points="547.86,93.06 551.38,89.83 575.83,116.43 572.31,119.66" fill="url(#gc7)"/>
<linearGradient id="gc8" gradientUnits="userSpaceOnUse" x1="540.20" y1="100.10" x2="564.65" y2="126.70"><stop offset="0.000" stop-color="#626eb6"/><stop offset="0.344" stop-color="#626eb6"/><stop offset="0.373" stop-color="#7181c3"/><stop offset="0.405" stop-color="#8395d0"/><stop offset="0.442" stop-color="#98abdc"/><stop offset="0.491" stop-color="#b4c2e7"/><stop offset="0.552" stop-color="#d1d6e7"/><stop offset="0.625" stop-color="#e7dad7"/><stop offset="0.711" stop-color="#f0cdc0"/><stop offset="0.833" stop-color="#f1bba9"/><stop offset="1.000" stop-color="#f0aa96"/></linearGradient>
<polygon points="550.64,90.50 554.16,87.27 578.61,113.88 575.09,117.11" fill="url(#gc8)"/>
<linearGradient id="gc9" gradientUnits="userSpaceOnUse" x1="540.20" y1="100.10" x2="564.65" y2="126.70"><stop offset="0.000" stop-color="#626eb6"/><stop offset="0.343" stop-color="#626eb6"/><stop offset="0.370" stop-color="#7181c3"/><stop offset="0.399" stop-color="#8295d0"/><stop offset="0.432" stop-color="#98aadc"/><stop offset="0.477" stop-color="#b3c1e7"/><stop offset="0.533" stop-color="#cfd5e7"/><stop offset="0.599" stop-color="#e6dbd9"/><stop offset="0.677" stop-color="#f0cec2"/><stop offset="0.789" stop-color="#f1bdac"/><stop offset="0.945" stop-color="#f0ac98"/><stop offset="1.000" stop-color="#efa793"/></linearGradient>
<polygon points="553.42,87.95 556.93,84.72 581.38,111.33 577.87,114.56" fill="url(#gc9)"/>
<linearGradient id="gc10" gradientUnits="userSpaceOnUse" x1="540.20" y1="100.10" x2="564.65" y2="126.70"><stop offset="0.000" stop-color="#626eb6"/><stop offset="0.342" stop-color="#626eb6"/><stop offset="0.367" stop-color="#7081c3"/><stop offset="0.393" stop-color="#8294cf"/><stop offset="0.424" stop-color="#97a9db"/><stop offset="0.464" stop-color="#b2c1e6"/><stop offset="0.515" stop-color="#ced4e7"/><stop offset="0.576" stop-color="#e5dcdb"/><stop offset="0.647" stop-color="#f0d0c4"/><stop offset="0.749" stop-color="#f1bfae"/><stop offset="0.891" stop-color="#f1af9b"/><stop offset="1.000" stop-color="#eea592"/></linearGradient>
<polygon points="556.20,85.40 559.71,82.17 584.16,108.77 580.65,112.00" fill="url(#gc10)"/>
<linearGradient id="gc11" gradientUnits="userSpaceOnUse" x1="540.20" y1="100.10" x2="564.65" y2="126.70"><stop offset="0.000" stop-color="#626eb6"/><stop offset="0.342" stop-color="#626eb6"/><stop offset="0.364" stop-color="#7081c3"/><stop offset="0.388" stop-color="#8194cf"/><stop offset="0.416" stop-color="#96a8db"/><stop offset="0.453" stop-color="#b1c0e6"/><stop offset="0.499" stop-color="#cdd3e7"/><stop offset="0.555" stop-color="#e5dddd"/><stop offset="0.619" stop-color="#efd1c6"/><stop offset="0.712" stop-color="#f1c0b0"/><stop offset="0.842" stop-color="#f2b29e"/><stop offset="1.000" stop-color="#eea491"/></linearGradient>
<polygon points="558.98,82.85 562.49,79.62 586.94,106.22 583.42,109.45" fill="url(#gc11)"/>
<linearGradient id="gc12" gradientUnits="userSpaceOnUse" x1="540.20" y1="100.10" x2="564.65" y2="126.70"><stop offset="0.000" stop-color="#626eb6"/><stop offset="0.342" stop-color="#626eb6"/><stop offset="0.362" stop-color="#7080c3"/><stop offset="0.384" stop-color="#8193cf"/><stop offset="0.409" stop-color="#95a8db"/><stop offset="0.443" stop-color="#b0bfe5"/><stop offset="0.485" stop-color="#cbd2e7"/><stop offset="0.535" stop-color="#e4dede"/><stop offset="0.594" stop-color="#eed2c8"/><stop offset="0.679" stop-color="#f1c2b3"/><stop offset="0.797" stop-color="#f2b4a1"/><stop offset="0.949" stop-color="#efa793"/><stop offset="1.000" stop-color="#eea491"/></linearGradient>
<polygon points="561.75,80.29 565.27,77.06 589.72,103.67 586.20,106.90" fill="url(#gc12)"/>
<linearGradient id="gc13" gradientUnits="userSpaceOnUse" x1="540.20" y1="100.10" x2="564.65" y2="126.70"><stop offset="0.000" stop-color="#626eb6"/><stop offset="0.341" stop-color="#626eb6"/><stop offset="0.360" stop-color="#7080c3"/><stop offset="0.380" stop-color="#8193cf"/><stop offset="0.403" stop-color="#94a7da"/><stop offset="0.433" stop-color="#afbee5"/><stop offset="0.472" stop-color="#cad1e7"/><stop offset="0.518" stop-color="#e2dee0"/><stop offset="0.572" stop-color="#edd3ca"/><stop offset="0.649" stop-color="#f1c4b5"/><stop offset="0.756" stop-color="#f2b6a3"/><stop offset="0.895" stop-color="#f0aa97"/><stop offset="1.000" stop-color="#eea491"/></linearGradient>
<polygon points="564.53,77.74 568.05,74.51 592.49,101.11 588.98,104.34" fill="url(#gc13)"/>
<linearGradient id="gc14" gradientUnits="userSpaceOnUse" x1="540.20" y1="100.10" x2="564.65" y2="126.70"><stop offset="0.000" stop-color="#626eb6"/><stop offset="0.341" stop-color="#626eb6"/><stop offset="0.358" stop-color="#7080c2"/><stop offset="0.376" stop-color="#8092ce"/><stop offset="0.397" stop-color="#93a6da"/><stop offset="0.425" stop-color="#adbde5"/><stop offset="0.460" stop-color="#c8d0e7"/><stop offset="0.502" stop-color="#e0dde1"/><stop offset="0.551" stop-color="#ecd5cc"/><stop offset="0.621" stop-color="#f1c6b7"/><stop offset="0.719" stop-color="#f2b8a6"/><stop offset="0.846" stop-color="#f1ae9a"/><stop offset="1.000" stop-color="#eea592"/></linearGradient>
<polygon points="567.31,75.19 570.82,71.96 595.27,98.56 591.76,101.79" fill="url(#gc14)"/>
<linearGradient id="gc15" gradientUnits="userSpaceOnUse" x1="540.20" y1="100.10" x2="564.65" y2="126.70"><stop offset="0.000" stop-color="#626eb6"/><stop offset="0.341" stop-color="#626eb6"/><stop offset="0.356" stop-color="#7080c2"/><stop offset="0.373" stop-color="#8092ce"/><stop offset="0.392" stop-color="#93a6da"/><stop offset="0.417" stop-color="#acbce4"/><stop offset="0.449" stop-color="#c7cfe7"/><stop offset="0.488" stop-color="#dfdde2"/><stop offset="0.533" stop-color="#ebd6cf"/><stop offset="0.596" stop-color="#f1c8ba"/><stop offset="0.686" stop-color="#f1baa9"/><stop offset="0.801" stop-color="#f2b29e"/><stop offset="1.000" stop-color="#efa793"/></linearGradient>
<polygon points="570.09,72.63 573.60,69.40 598.05,96.01 594.54,99.24" fill="url(#gc15)"/>
<linearGradient id="gc16" gradientUnits="userSpaceOnUse" x1="540.20" y1="100.10" x2="564.65" y2="126.70"><stop offset="0.000" stop-color="#626eb6"/><stop offset="0.341" stop-color="#626eb6"/><stop offset="0.355" stop-color="#6f7fc2"/><stop offset="0.370" stop-color="#7f91ce"/><stop offset="0.387" stop-color="#92a5d9"/><stop offset="0.411" stop-color="#abbbe4"/><stop offset="0.440" stop-color="#c5cee7"/><stop offset="0.475" stop-color="#dddde4"/><stop offset="0.516" stop-color="#ead7d1"/><stop offset="0.574" stop-color="#f0cabc"/><stop offset="0.655" stop-color="#f1bdab"/><stop offset="0.760" stop-color="#f2b4a0"/><stop offset="1.000" stop-color="#efa995"/></linearGradient>
<polygon points="572.86,70.08 576.38,66.85 600.83,93.46 597.31,96.69" fill="url(#gc16)"/>
<linearGradient id="gc17" gradientUnits="userSpaceOnUse" x1="540.20" y1="100.10" x2="564.65" y2="126.70"><stop offset="0.000" stop-color="#626eb6"/><stop offset="0.340" stop-color="#626eb6"/><stop offset="0.353" stop-color="#6f7fc2"/><stop offset="0.367" stop-color="#7f91cd"/><stop offset="0.383" stop-color="#91a4d9"/><stop offset="0.404" stop-color="#aabae3"/><stop offset="0.431" stop-color="#c4cde7"/><stop offset="0.463" stop-color="#dbdce5"/><stop offset="0.500" stop-color="#e9d8d3"/><stop offset="0.553" stop-color="#f0ccbf"/><stop offset="0.628" stop-color="#f1bfae"/><stop offset="0.724" stop-color="#f2b6a3"/><stop offset="1.000" stop-color="#f0ab97"/></linearGradient>
<polygon points="575.64,67.53 579.16,64.30 603.61,90.90 600.09,94.13" fill="url(#gc17)"/>
<linearGradient id="gc18" gradientUnits="userSpaceOnUse" x1="540.20" y1="100.10" x2="564.65" y2="126.70"><stop offset="0.000" stop-color="#626eb6"/><stop offset="0.340" stop-color="#626eb6"/><stop offset="0.352" stop-color="#6f7fc2"/><stop offset="0.365" stop-color="#7f91cd"/><stop offset="0.379" stop-color="#91a4d9"/><stop offset="0.399" stop-color="#aabae3"/><stop offset="0.423" stop-color="#c3cde7"/><stop offset="0.452" stop-color="#dbdce5"/><stop offset="0.486" stop-color="#e9d8d3"/><stop offset="0.535" stop-color="#f0ccbf"/><stop offset="0.603" stop-color="#f1bfaf"/><stop offset="0.690" stop-color="#f2b7a4"/><stop offset="1.000" stop-color="#f0aa96"/></linearGradient>
<polygon points="578.42,64.98 581.93,61.75 606.38,88.35 602.87,91.58" fill="url(#gc18)"/>
<linearGradient id="gc19" gradientUnits="userSpaceOnUse" x1="540.20" y1="100.10" x2="564.65" y2="126.70"><stop offset="0.000" stop-color="#626eb6"/><stop offset="0.340" stop-color="#626eb6"/><stop offset="0.351" stop-color="#6f7fc2"/><stop offset="0.362" stop-color="#7f91cd"/><stop offset="0.376" stop-color="#91a4d9"/><stop offset="0.394" stop-color="#aab9e3"/><stop offset="0.416" stop-color="#c3cde7"/><stop offset="0.442" stop-color="#dbdce5"/><stop offset="0.473" stop-color="#e9d8d3"/><stop offset="0.518" stop-color="#f0ccbf"/><stop offset="0.580" stop-color="#f1bfaf"/><stop offset="0.660" stop-color="#f2b7a4"/><stop offset="1.000" stop-color="#efa995"/></linearGradient>
<polygon points="581.20,62.42 584.71,59.19 609.16,85.80 605.65,89.03" fill="url(#gc19)"/>
<linearGradient id="gc20" gradientUnits="userSpaceOnUse" x1="540.20" y1="100.10" x2="564.65" y2="126.70"><stop offset="0.000" stop-color="#626eb6"/><stop offset="0.340" stop-color="#626eb6"/><stop offset="0.350" stop-color="#6f7fc2"/><stop offset="0.360" stop-color="#7f91cd"/><stop offset="0.373" stop-color="#91a4d9"/><stop offset="0.389" stop-color="#aab9e3"/><stop offset="0.409" stop-color="#c3cde7"/><stop offset="0.433" stop-color="#dbdce5"/><stop offset="0.462" stop-color="#e9d8d3"/><stop offset="0.502" stop-color="#f0ccbf"/><stop offset="0.559" stop-color="#f1c0af"/><stop offset="0.632" stop-color="#f2b7a5"/><stop offset="1.000" stop-color="#efa794"/></linearGradient>
<polygon points="583.98,59.87 587.49,56.64 611.94,83.24 608.43,86.47" fill="url(#gc20)"/>
<linearGradient id="gc21" gradientUnits="userSpaceOnUse" x1="540.20" y1="100.10" x2="564.65" y2="126.70"><stop offset="0.000" stop-color="#626eb6"/><stop offset="0.340" stop-color="#626eb6"/><stop offset="0.349" stop-color="#6f7fc2"/><stop offset="0.359" stop-color="#7f91cd"/><stop offset="0.370" stop-color="#91a4d9"/><stop offset="0.385" stop-color="#aab9e3"/><stop offset="0.403" stop-color="#c3cde7"/><stop offset="0.425" stop-color="#dbdce5"/><stop offset="0.451" stop-color="#e9d8d4"/><stop offset="0.488" stop-color="#f0cdc0"/><stop offset="0.540" stop-color="#f1c0af"/><stop offset="0.607" stop-color="#f2b7a5"/><stop offset="1.000" stop-color="#efa693"/></linearGradient>
<polygon points="586.75,57.32 590.27,54.09 614.72,80.69 611.20,83.92" fill="url(#gc21)"/>
<linearGradient id="gc22" gradientUnits="userSpaceOnUse" x1="540.20" y1="100.10" x2="564.65" y2="126.70"><stop offset="0.000" stop-color="#626eb6"/><stop offset="0.340" stop-color="#626eb6"/><stop offset="0.348" stop-color="#6f7fc2"/><stop offset="0.357" stop-color="#7f91cd"/><stop offset="0.367" stop-color="#91a4d9"/><stop offset="0.381" stop-color="#aab9e3"/><stop offset="0.398" stop-color="#c3cde7"/><stop offset="0.418" stop-color="#dbdce6"/><stop offset="0.442" stop-color="#e9d8d4"/><stop offset="0.476" stop-color="#f0cdc0"/><stop offset="0.523" stop-color="#f1c0b0"/><stop offset="0.584" stop-color="#f2b8a5"/><stop offset="1.000" stop-color="#eea592"/></linearGradient>
<polygon points="589.53,54.76 593.05,51.53 617.50,78.14 613.98,81.37" fill="url(#gc22)"/>
<linearGradient id="gc23" gradientUnits="userSpaceOnUse" x1="540.20" y1="100.10" x2="564.65" y2="126.70"><stop offset="0.000" stop-color="#626eb6"/><stop offset="0.340" stop-color="#626eb6"/><stop offset="0.348" stop-color="#6f7fc2"/><stop offset="0.356" stop-color="#7f91cd"/><stop offset="0.365" stop-color="#91a4d9"/><stop offset="0.377" stop-color="#aab9e3"/><stop offset="0.393" stop-color="#c3cde7"/><stop offset="0.411" stop-color="#dbdce6"/><stop offset="0.433" stop-color="#e9d9d4"/><stop offset="0.464" stop-color="#f0cdc0"/><stop offset="0.507" stop-color="#f1c0b0"/><stop offset="0.563" stop-color="#f2b8a5"/><stop offset="1.000" stop-color="#eea491"/></linearGradient>
<polygon points="592.31,52.21 595.82,48.98 620.27,75.59 616.76,78.82" fill="url(#gc23)"/>
<linearGradient id="gc24" gradientUnits="userSpaceOnUse" x1="540.20" y1="100.10" x2="564.65" y2="126.70"><stop offset="0.000" stop-color="#626eb6"/><stop offset="0.340" stop-color="#626eb6"/><stop offset="0.347" stop-color="#6f7fc2"/><stop offset="0.354" stop-color="#7f91cd"/><stop offset="0.363" stop-color="#91a4d9"/><stop offset="0.374" stop-color="#aab9e3"/><stop offset="0.388" stop-color="#c3cde7"/><stop offset="0.405" stop-color="#dadce6"/><stop offset="0.425" stop-color="#e9d9d4"/><stop offset="0.454" stop-color="#f0cdc0"/><stop offset="0.493" stop-color="#f1c0b0"/><stop offset="0.544" stop-color="#f2b8a6"/><stop offset="1.000" stop-color="#eea390"/></linearGradient>
<polygon points="595.09,49.66 598.60,46.43 623.05,73.03 619.54,76.26" fill="url(#gc24)"/>
<linearGradient id="gc25" gradientUnits="userSpaceOnUse" x1="540.20" y1="100.10" x2="564.65" y2="126.70"><stop offset="0.000" stop-color="#626eb6"/><stop offset="0.340" stop-color="#626eb6"/><stop offset="0.346" stop-color="#6f7fc2"/><stop offset="0.353" stop-color="#7f91cd"/><stop offset="0.361" stop-color="#91a4d9"/><stop offset="0.371" stop-color="#a9b9e3"/><stop offset="0.384" stop-color="#c3cde7"/><stop offset="0.400" stop-color="#dadce6"/><stop offset="0.418" stop-color="#e9d9d4"/><stop offset="0.444" stop-color="#f0cdc0"/><stop offset="0.480" stop-color="#f1c0b0"/><stop offset="0.527" stop-color="#f2b8a6"/><stop offset="1.000" stop-color="#eda28f"/></linearGradient>
<polygon points="597.87,47.11 601.38,43.88 625.83,70.48 622.31,73.71" fill="url(#gc25)"/>
<linearGradient id="gc26" gradientUnits="userSpaceOnUse" x1="540.20" y1="100.10" x2="564.65" y2="126.70"><stop offset="0.000" stop-color="#626eb6"/><stop offset="0.340" stop-color="#626eb6"/><stop offset="0.346" stop-color="#6f7fc2"/><stop offset="0.352" stop-color="#7e91cd"/><stop offset="0.359" stop-color="#91a4d9"/><stop offset="0.369" stop-color="#a9b9e3"/><stop offset="0.381" stop-color="#c3cde7"/><stop offset="0.395" stop-color="#dadce6"/><stop offset="0.411" stop-color="#e9d9d4"/><stop offset="0.435" stop-color="#f0cdc0"/><stop offset="0.469" stop-color="#f1c0b0"/><stop offset="0.511" stop-color="#f2b8a6"/><stop offset="1.000" stop-color="#eda18e"/></linearGradient>
<polygon points="600.64,44.55 604.16,41.32 628.61,67.93 625.09,71.16" fill="url(#gc26)"/>
<linearGradient id="gc27" gradientUnits="userSpaceOnUse" x1="540.20" y1="100.10" x2="564.65" y2="126.70"><stop offset="0.000" stop-color="#626eb6"/><stop offset="0.340" stop-color="#626eb6"/><stop offset="0.345" stop-color="#6f7fc2"/><stop offset="0.351" stop-color="#7e91cd"/><stop offset="0.358" stop-color="#91a4d9"/><stop offset="0.366" stop-color="#a9b9e3"/><stop offset="0.377" stop-color="#c3cce7"/><stop offset="0.390" stop-color="#dadce6"/><stop offset="0.406" stop-color="#e8d9d4"/><stop offset="0.427" stop-color="#f0cdc1"/><stop offset="0.458" stop-color="#f1c1b1"/><stop offset="0.497" stop-color="#f2b9a6"/><stop offset="1.000" stop-color="#eda08d"/></linearGradient>
<polygon points="603.42,42.00 606.94,38.77 631.38,65.37 627.87,68.60" fill="url(#gc27)"/>
<linearGradient id="gc28" gradientUnits="userSpaceOnUse" x1="540.20" y1="100.10" x2="564.65" y2="126.70"><stop offset="0.000" stop-color="#626eb6"/><stop offset="0.340" stop-color="#626eb6"/><stop offset="0.345" stop-color="#6f7fc2"/><stop offset="0.350" stop-color="#7e91cd"/><stop offset="0.356" stop-color="#91a4d9"/><stop offset="0.364" stop-color="#a9b9e3"/><stop offset="0.374" stop-color="#c3cce7"/><stop offset="0.386" stop-color="#dadce6"/><stop offset="0.400" stop-color="#e8d9d4"/><stop offset="0.420" stop-color="#f0cdc1"/><stop offset="0.448" stop-color="#f1c1b1"/><stop offset="0.484" stop-color="#f2b9a7"/><stop offset="1.000" stop-color="#ed9f8c"/></linearGradient>
<polygon points="606.20,39.45 609.71,36.22 634.16,62.82 630.65,66.05" fill="url(#gc28)"/>
<linearGradient id="gc29" gradientUnits="userSpaceOnUse" x1="540.20" y1="100.10" x2="564.65" y2="126.70"><stop offset="0.000" stop-color="#626eb6"/><stop offset="0.340" stop-color="#626eb6"/><stop offset="0.344" stop-color="#6f7fc2"/><stop offset="0.349" stop-color="#7e91cd"/><stop offset="0.355" stop-color="#91a4d9"/><stop offset="0.362" stop-color="#a9b9e3"/><stop offset="0.371" stop-color="#c3cce7"/><stop offset="0.382" stop-color="#dadce6"/><stop offset="0.395" stop-color="#e8d9d4"/><stop offset="0.414" stop-color="#f0cdc1"/><stop offset="0.439" stop-color="#f1c1b1"/><stop offset="0.472" stop-color="#f2b9a7"/><stop offset="1.000" stop-color="#ec9e8b"/></linearGradient>
<polygon points="608.98,36.89 612.49,33.66 636.94,60.27 633.43,63.50" fill="url(#gc29)"/>
<linearGradient id="gc30" gradientUnits="userSpaceOnUse" x1="540.20" y1="100.10" x2="564.65" y2="126.70"><stop offset="0.000" stop-color="#626eb6"/><stop offset="0.340" stop-color="#626eb6"/><stop offset="0.344" stop-color="#6f7fc2"/><stop offset="0.348" stop-color="#7e91cd"/><stop offset="0.354" stop-color="#91a4d9"/><stop offset="0.360" stop-color="#a9b9e3"/><stop offset="0.369" stop-color="#c3cce7"/><stop offset="0.379" stop-color="#dadce6"/><stop offset="0.391" stop-color="#e8d9d5"/><stop offset="0.408" stop-color="#f0cec1"/><stop offset="0.431" stop-color="#f1c1b1"/><stop offset="0.462" stop-color="#f2b9a7"/><stop offset="1.000" stop-color="#ec9d8a"/></linearGradient>
<polygon points="611.75,34.34 615.27,31.11 639.72,57.72 636.20,60.95" fill="url(#gc30)"/>
<linearGradient id="gc31" gradientUnits="userSpaceOnUse" x1="540.20" y1="100.10" x2="564.65" y2="126.70"><stop offset="0.000" stop-color="#626eb6"/><stop offset="0.340" stop-color="#626eb6"/><stop offset="0.344" stop-color="#6f7fc2"/><stop offset="0.348" stop-color="#7e91cd"/><stop offset="0.352" stop-color="#91a4d9"/><stop offset="0.359" stop-color="#a9b9e3"/><stop offset="0.366" stop-color="#c3cce7"/><stop offset="0.376" stop-color="#dadce6"/><stop offset="0.387" stop-color="#e8d9d5"/><stop offset="0.402" stop-color="#f0cec1"/><stop offset="0.424" stop-color="#f1c1b1"/><stop offset="0.452" stop-color="#f2b9a7"/><stop offset="1.000" stop-color="#ec9c89"/></linearGradient>
<polygon points="614.53,31.79 618.05,28.56 642.50,55.16 638.98,58.39" fill="url(#gc31)"/>
<linearGradient id="gc32" gradientUnits="userSpaceOnUse" x1="540.20" y1="100.10" x2="564.65" y2="126.70"><stop offset="0.000" stop-color="#626eb6"/><stop offset="0.340" stop-color="#626eb6"/><stop offset="0.343" stop-color="#6f7fc2"/><stop offset="0.347" stop-color="#7e91cd"/><stop offset="0.351" stop-color="#91a4d9"/><stop offset="0.357" stop-color="#a9b9e3"/><stop offset="0.364" stop-color="#c2cce7"/><stop offset="0.373" stop-color="#dadce6"/><stop offset="0.383" stop-color="#e8d9d5"/><stop offset="0.397" stop-color="#f0cec1"/><stop offset="0.417" stop-color="#f1c1b1"/><stop offset="0.443" stop-color="#f1baa8"/><stop offset="1.000" stop-color="#eb9b88"/></linearGradient>
<polygon points="617.31,29.24 620.82,26.01 645.27,52.61 641.76,55.84" fill="url(#gc32)"/>
<linearGradient id="gc33" gradientUnits="userSpaceOnUse" x1="540.20" y1="100.10" x2="564.65" y2="126.70"><stop offset="0.000" stop-color="#626eb6"/><stop offset="0.340" stop-color="#626eb6"/><stop offset="0.343" stop-color="#6f7fc2"/><stop offset="0.347" stop-color="#7e91cd"/><stop offset="0.351" stop-color="#91a4d9"/><stop offset="0.356" stop-color="#a9b9e3"/><stop offset="0.362" stop-color="#c2cce7"/><stop offset="0.370" stop-color="#dadce6"/><stop offset="0.380" stop-color="#e8d9d5"/><stop offset="0.393" stop-color="#f0cec1"/><stop offset="0.411" stop-color="#f1c1b2"/><stop offset="0.435" stop-color="#f1baa8"/><stop offset="1.000" stop-color="#eb9a87"/></linearGradient>
<polygon points="620.09,26.68 623.60,23.45 648.05,50.06 644.54,53.29" fill="url(#gc33)"/>
<linearGradient id="gc34" gradientUnits="userSpaceOnUse" x1="540.20" y1="100.10" x2="564.65" y2="126.70"><stop offset="0.000" stop-color="#626eb6"/><stop offset="0.340" stop-color="#626eb6"/><stop offset="0.343" stop-color="#6f7fc2"/><stop offset="0.346" stop-color="#7e91cd"/><stop offset="0.350" stop-color="#91a4d9"/><stop offset="0.355" stop-color="#a9b9e3"/><stop offset="0.361" stop-color="#c2cce7"/><stop offset="0.368" stop-color="#dadce6"/><stop offset="0.377" stop-color="#e8d9d5"/><stop offset="0.389" stop-color="#f0cec1"/><stop offset="0.406" stop-color="#f1c2b2"/><stop offset="0.428" stop-color="#f1baa8"/><stop offset="1.000" stop-color="#eb9986"/></linearGradient>
<polygon points="622.87,24.13 626.38,20.90 650.83,47.50 647.32,50.73" fill="url(#gc34)"/>
<linearGradient id="gc35" gradientUnits="userSpaceOnUse" x1="540.20" y1="100.10" x2="564.65" y2="126.70"><stop offset="0.000" stop-color="#626eb6"/><stop offset="0.340" stop-color="#626eb6"/><stop offset="0.343" stop-color="#6f7fc2"/><stop offset="0.346" stop-color="#7e91cd"/><stop offset="0.349" stop-color="#91a4d9"/><stop offset="0.354" stop-color="#a9b9e3"/><stop offset="0.359" stop-color="#c2cce7"/><stop offset="0.366" stop-color="#dadce6"/><stop offset="0.374" stop-color="#e8d9d5"/><stop offset="0.385" stop-color="#f0cec2"/><stop offset="0.401" stop-color="#f1c2b2"/><stop offset="0.421" stop-color="#f1baa8"/><stop offset="1.000" stop-color="#ea9885"/></linearGradient>
<polygon points="625.64,21.58 629.16,18.35 653.61,44.95 650.09,48.18" fill="url(#gc35)"/>
<linearGradient id="gc36" gradientUnits="userSpaceOnUse" x1="540.20" y1="100.10" x2="564.65" y2="126.70"><stop offset="0.000" stop-color="#626eb6"/><stop offset="0.340" stop-color="#626eb6"/><stop offset="0.343" stop-color="#6f7fc2"/><stop offset="0.345" stop-color="#7e91cd"/><stop offset="0.348" stop-color="#91a4d9"/><stop offset="0.353" stop-color="#a9b9e3"/><stop offset="0.358" stop-color="#c2cce7"/><stop offset="0.364" stop-color="#dadce6"/><stop offset="0.371" stop-color="#e8d9d5"/><stop offset="0.382" stop-color="#f0cec2"/><stop offset="0.396" stop-color="#f1c2b2"/><stop offset="0.415" stop-color="#f1baa8"/><stop offset="1.000" stop-color="#ea9784"/></linearGradient>
<polygon points="628.42,19.02 631.94,15.79 656.39,42.40 652.87,45.63" fill="url(#gc36)"/>
<linearGradient id="gc37" gradientUnits="userSpaceOnUse" x1="540.20" y1="100.10" x2="564.65" y2="126.70"><stop offset="0.000" stop-color="#626eb6"/><stop offset="0.340" stop-color="#626eb6"/><stop offset="0.342" stop-color="#6f7fc2"/><stop offset="0.345" stop-color="#7e91cd"/><stop offset="0.348" stop-color="#91a4d9"/><stop offset="0.352" stop-color="#a9b9e3"/><stop offset="0.356" stop-color="#c2cce7"/><stop offset="0.362" stop-color="#dadce6"/><stop offset="0.369" stop-color="#e8d9d5"/><stop offset="0.379" stop-color="#f0cec2"/><stop offset="0.392" stop-color="#f1c2b2"/><stop offset="0.410" stop-color="#f1baa8"/><stop offset="1.000" stop-color="#ea9683"/></linearGradient>
<polygon points="631.20,16.47 634.71,13.24 659.16,39.85 655.65,43.08" fill="url(#gc37)"/>
<linearGradient id="gc38" gradientUnits="userSpaceOnUse" x1="540.20" y1="100.10" x2="564.65" y2="126.70"><stop offset="0.000" stop-color="#626eb6"/><stop offset="0.340" stop-color="#626eb6"/><stop offset="0.342" stop-color="#6f7fc2"/><stop offset="0.344" stop-color="#7e91cd"/><stop offset="0.347" stop-color="#91a4d9"/><stop offset="0.351" stop-color="#a9b9e3"/><stop offset="0.355" stop-color="#c2cce7"/><stop offset="0.361" stop-color="#dadce6"/><stop offset="0.367" stop-color="#e8d9d5"/><stop offset="0.376" stop-color="#f0cec2"/><stop offset="0.388" stop-color="#f1c2b2"/><stop offset="0.405" stop-color="#f1baa9"/><stop offset="1.000" stop-color="#ea9582"/></linearGradient>
<polygon points="633.98,13.92 637.49,10.69 661.94,37.29 658.43,40.52" fill="url(#gc38)"/>
<linearGradient id="gc39" gradientUnits="userSpaceOnUse" x1="540.20" y1="100.10" x2="564.65" y2="126.70"><stop offset="0.000" stop-color="#626eb6"/><stop offset="0.340" stop-color="#626eb6"/><stop offset="0.342" stop-color="#6f7fc2"/><stop offset="0.344" stop-color="#7e91cd"/><stop offset="0.347" stop-color="#91a4d9"/><stop offset="0.350" stop-color="#a9b9e3"/><stop offset="0.354" stop-color="#c2cce7"/><stop offset="0.359" stop-color="#dadce6"/><stop offset="0.365" stop-color="#e8d9d5"/><stop offset="0.373" stop-color="#f0cec2"/><stop offset="0.385" stop-color="#f1c2b2"/><stop offset="0.400" stop-color="#f1baa9"/><stop offset="1.000" stop-color="#e99481"/></linearGradient>
<polygon points="636.76,11.37 640.27,8.14 664.72,34.74 661.20,37.97" fill="url(#gc39)"/>
<linearGradient id="gc40" gradientUnits="userSpaceOnUse" x1="540.20" y1="100.10" x2="564.65" y2="126.70"><stop offset="0.000" stop-color="#626eb6"/><stop offset="0.340" stop-color="#626eb6"/><stop offset="0.342" stop-color="#6f7fc2"/><stop offset="0.344" stop-color="#7e91cd"/><stop offset="0.346" stop-color="#91a4d9"/><stop offset="0.349" stop-color="#a9b9e3"/><stop offset="0.353" stop-color="#c2cce7"/><stop offset="0.358" stop-color="#dadce6"/><stop offset="0.363" stop-color="#e8d9d5"/><stop offset="0.371" stop-color="#f0cec2"/><stop offset="0.382" stop-color="#f1c2b2"/><stop offset="0.396" stop-color="#f1bba9"/><stop offset="1.000" stop-color="#e99380"/></linearGradient>
<polygon points="639.53,8.81 643.05,5.58 667.50,32.19 663.98,35.42" fill="url(#gc40)"/>
<linearGradient id="gc41" gradientUnits="userSpaceOnUse" x1="540.20" y1="100.10" x2="564.65" y2="126.70"><stop offset="0.000" stop-color="#626eb6"/><stop offset="0.340" stop-color="#626eb6"/><stop offset="0.342" stop-color="#6f7fc2"/><stop offset="0.344" stop-color="#7e91cd"/><stop offset="0.346" stop-color="#91a4d9"/><stop offset="0.349" stop-color="#a9b9e3"/><stop offset="0.352" stop-color="#c2cce7"/><stop offset="0.357" stop-color="#d9dce6"/><stop offset="0.362" stop-color="#e8d9d5"/><stop offset="0.369" stop-color="#f0cec2"/><stop offset="0.379" stop-color="#f1c2b2"/><stop offset="0.392" stop-color="#f1bba9"/><stop offset="1.000" stop-color="#e9927f"/></linearGradient>
<polygon points="642.31,6.26 645.83,3.03 670.27,29.63 666.76,32.86" fill="url(#gc41)"/>
<linearGradient id="gc42" gradientUnits="userSpaceOnUse" x1="540.20" y1="100.10" x2="564.65" y2="126.70"><stop offset="0.000" stop-color="#626eb6"/><stop offset="0.340" stop-color="#626eb6"/><stop offset="0.342" stop-color="#6f7fc2"/><stop offset="0.343" stop-color="#7e91cd"/><stop offset="0.345" stop-color="#91a4d9"/><stop offset="0.348" stop-color="#a9b9e3"/><stop offset="0.352" stop-color="#c2cce7"/><stop offset="0.356" stop-color="#d9dce6"/><stop offset="0.360" stop-color="#e8d9d5"/><stop offset="0.367" stop-color="#f0cec2"/><stop offset="0.377" stop-color="#f1c2b3"/><stop offset="0.389" stop-color="#f1bba9"/><stop offset="1.000" stop-color="#e8917e"/></linearGradient>
<polygon points="645.09,3.71 648.60,0.48 673.05,27.08 669.54,30.31" fill="url(#gc42)"/>
<linearGradient id="gc43" gradientUnits="userSpaceOnUse" x1="540.20" y1="100.10" x2="564.65" y2="126.70"><stop offset="0.000" stop-color="#626eb6"/><stop offset="0.340" stop-color="#626eb6"/><stop offset="0.342" stop-color="#6f7fc2"/><stop offset="0.343" stop-color="#7e91cd"/><stop offset="0.345" stop-color="#91a4d9"/><stop offset="0.348" stop-color="#a9b9e3"/><stop offset="0.351" stop-color="#c2cce7"/><stop offset="0.355" stop-color="#d9dce6"/><stop offset="0.360" stop-color="#e8d9d5"/><stop offset="0.366" stop-color="#f0cec2"/><stop offset="0.376" stop-color="#f1c2b3"/><stop offset="0.387" stop-color="#f1bba9"/><stop offset="1.000" stop-color="#e8907e"/></linearGradient>
<polygon points="647.87,1.15 651.38,-2.08 675.83,24.53 672.32,27.76" fill="url(#gc43)"/>
</g>
<polygon points="621.00,118.10 621.60,100.00 622.80,82.00 625.80,64.30 627.50,57.00 629.00,50.00 630.50,43.50 632.50,37.00 634.90,31.20 637.80,25.60 641.00,20.70 644.00,15.00 646.70,9.20 658.00,9.20 658.00,118.10" fill="#8f5a25" fill-opacity="0.44"/>
<line x1="532.84" y1="106.87" x2="658.01" y2="-8.17" stroke="#111" stroke-width="0.9" />
<line x1="567.74" y1="123.87" x2="692.91" y2="8.83" stroke="#111" stroke-width="0.9" />
</g>
<rect x="540.20" y="10.20" width="116.00" height="106.90" fill="none" stroke="#2b2b2b" stroke-width="0.9" rx="0" />
<line x1="557.66" y1="117.10" x2="557.66" y2="118.30" stroke="#2b2b2b" stroke-width="0.4" />
<line x1="539.00" y1="101.01" x2="540.20" y2="101.01" stroke="#2b2b2b" stroke-width="0.4" />
<line x1="567.87" y1="117.10" x2="567.87" y2="118.30" stroke="#2b2b2b" stroke-width="0.4" />
<line x1="539.00" y1="91.60" x2="540.20" y2="91.60" stroke="#2b2b2b" stroke-width="0.4" />
<line x1="575.12" y1="117.10" x2="575.12" y2="118.30" stroke="#2b2b2b" stroke-width="0.4" />
<line x1="539.00" y1="84.92" x2="540.20" y2="84.92" stroke="#2b2b2b" stroke-width="0.4" />
<line x1="580.74" y1="117.10" x2="580.74" y2="118.30" stroke="#2b2b2b" stroke-width="0.4" />
<line x1="539.00" y1="79.74" x2="540.20" y2="79.74" stroke="#2b2b2b" stroke-width="0.4" />
<line x1="585.33" y1="117.10" x2="585.33" y2="118.30" stroke="#2b2b2b" stroke-width="0.4" />
<line x1="539.00" y1="75.51" x2="540.20" y2="75.51" stroke="#2b2b2b" stroke-width="0.4" />
<line x1="589.22" y1="117.10" x2="589.22" y2="118.30" stroke="#2b2b2b" stroke-width="0.4" />
<line x1="539.00" y1="71.93" x2="540.20" y2="71.93" stroke="#2b2b2b" stroke-width="0.4" />
<line x1="592.58" y1="117.10" x2="592.58" y2="118.30" stroke="#2b2b2b" stroke-width="0.4" />
<line x1="539.00" y1="68.83" x2="540.20" y2="68.83" stroke="#2b2b2b" stroke-width="0.4" />
<line x1="595.55" y1="117.10" x2="595.55" y2="118.30" stroke="#2b2b2b" stroke-width="0.4" />
<line x1="539.00" y1="66.10" x2="540.20" y2="66.10" stroke="#2b2b2b" stroke-width="0.4" />
<line x1="615.66" y1="117.10" x2="615.66" y2="118.30" stroke="#2b2b2b" stroke-width="0.4" />
<line x1="539.00" y1="47.56" x2="540.20" y2="47.56" stroke="#2b2b2b" stroke-width="0.4" />
<line x1="625.87" y1="117.10" x2="625.87" y2="118.30" stroke="#2b2b2b" stroke-width="0.4" />
<line x1="539.00" y1="38.15" x2="540.20" y2="38.15" stroke="#2b2b2b" stroke-width="0.4" />
<line x1="633.12" y1="117.10" x2="633.12" y2="118.30" stroke="#2b2b2b" stroke-width="0.4" />
<line x1="539.00" y1="31.47" x2="540.20" y2="31.47" stroke="#2b2b2b" stroke-width="0.4" />
<line x1="638.74" y1="117.10" x2="638.74" y2="118.30" stroke="#2b2b2b" stroke-width="0.4" />
<line x1="539.00" y1="26.29" x2="540.20" y2="26.29" stroke="#2b2b2b" stroke-width="0.4" />
<line x1="643.33" y1="117.10" x2="643.33" y2="118.30" stroke="#2b2b2b" stroke-width="0.4" />
<line x1="539.00" y1="22.06" x2="540.20" y2="22.06" stroke="#2b2b2b" stroke-width="0.4" />
<line x1="647.22" y1="117.10" x2="647.22" y2="118.30" stroke="#2b2b2b" stroke-width="0.4" />
<line x1="539.00" y1="18.48" x2="540.20" y2="18.48" stroke="#2b2b2b" stroke-width="0.4" />
<line x1="650.58" y1="117.10" x2="650.58" y2="118.30" stroke="#2b2b2b" stroke-width="0.4" />
<line x1="539.00" y1="15.38" x2="540.20" y2="15.38" stroke="#2b2b2b" stroke-width="0.4" />
<line x1="653.55" y1="117.10" x2="653.55" y2="118.30" stroke="#2b2b2b" stroke-width="0.4" />
<line x1="539.00" y1="12.65" x2="540.20" y2="12.65" stroke="#2b2b2b" stroke-width="0.4" />
<line x1="540.20" y1="117.10" x2="540.20" y2="119.10" stroke="#2b2b2b" stroke-width="0.6" />
<line x1="538.20" y1="117.10" x2="540.20" y2="117.10" stroke="#2b2b2b" stroke-width="0.6" />
<text x="540.50" y="126.70" font-family='"Liberation Sans", Arial, Helvetica, sans-serif' font-size="7.1" fill="#222" text-anchor="middle"  >10<tspan dy="-3.0" font-size="66%">-1</tspan><tspan dy="3.0" font-size="1">&#8203;</tspan></text>
<text x="537.70" y="122.00" font-family='"Liberation Sans", Arial, Helvetica, sans-serif' font-size="7.1" fill="#222" text-anchor="end"  >10<tspan dy="-3.0" font-size="66%">-1</tspan><tspan dy="3.0" font-size="1">&#8203;</tspan></text>
<line x1="598.20" y1="117.10" x2="598.20" y2="119.10" stroke="#2b2b2b" stroke-width="0.6" />
<line x1="538.20" y1="63.65" x2="540.20" y2="63.65" stroke="#2b2b2b" stroke-width="0.6" />
<text x="598.50" y="126.70" font-family='"Liberation Sans", Arial, Helvetica, sans-serif' font-size="7.1" fill="#222" text-anchor="middle"  >10<tspan dy="-3.0" font-size="66%">0</tspan><tspan dy="3.0" font-size="1">&#8203;</tspan></text>
<text x="537.70" y="68.55" font-family='"Liberation Sans", Arial, Helvetica, sans-serif' font-size="7.1" fill="#222" text-anchor="end"  >10<tspan dy="-3.0" font-size="66%">0</tspan><tspan dy="3.0" font-size="1">&#8203;</tspan></text>
<line x1="656.20" y1="117.10" x2="656.20" y2="119.10" stroke="#2b2b2b" stroke-width="0.6" />
<line x1="538.20" y1="10.20" x2="540.20" y2="10.20" stroke="#2b2b2b" stroke-width="0.6" />
<text x="656.50" y="126.70" font-family='"Liberation Sans", Arial, Helvetica, sans-serif' font-size="7.1" fill="#222" text-anchor="middle"  >10<tspan dy="-3.0" font-size="66%">1</tspan><tspan dy="3.0" font-size="1">&#8203;</tspan></text>
<text x="537.70" y="15.10" font-family='"Liberation Sans", Arial, Helvetica, sans-serif' font-size="7.1" fill="#222" text-anchor="end"  >10<tspan dy="-3.0" font-size="66%">1</tspan><tspan dy="3.0" font-size="1">&#8203;</tspan></text>
<text x="598.00" y="133.30" font-family='"Liberation Serif", "DejaVu Serif", serif' font-size="7.5" fill="#111" text-anchor="middle" font-style="italic"  stroke="#111" stroke-width="0.2">α</text>
<text transform="translate(524.3,63.5) rotate(-90)" font-family='"Liberation Serif", "DejaVu Serif", serif' font-style="italic" font-size="7.5" fill="#111" text-anchor="middle">β</text>
<text x="552.50" y="27.30" font-family='"Liberation Serif", "DejaVu Serif", serif' font-size="7.5" fill="#111" text-anchor="start" font-style="italic" textLength="35.2" stroke="#111" stroke-width="0.08">O<tspan dy="1.4" font-size="76%">target</tspan><tspan dy="-1.4" font-size="1">&#8203;</tspan> ≤ 0</text>
<text x="600.80" y="107.20" font-family='"Liberation Serif", "DejaVu Serif", serif' font-size="7.5" fill="#111" text-anchor="start" font-style="italic" textLength="46.8" stroke="#111" stroke-width="0.08">O<tspan dy="1.4" font-size="76%">off−target</tspan><tspan dy="-1.4" font-size="1">&#8203;</tspan> ≥ 0</text>
<text transform="translate(583.9,73.6) rotate(-42.2)" font-family='"Liberation Sans", Arial, Helvetica, sans-serif' font-size="6.3" fill="#fff" text-anchor="middle" textLength="43">functional area</text>
<text transform="translate(592.3,82.5) rotate(-42.2)" font-family='"Liberation Serif", "DejaVu Serif", serif' font-style="italic" font-size="7.4" fill="#111" stroke="#111" stroke-width="0.08" text-anchor="middle" textLength="86">O<tspan dy="1.4" font-size="76%">target</tspan><tspan dy="-1.4" font-size="1">&#8203;</tspan> ≥ 0 &amp; O<tspan dy="1.4" font-size="76%">off−target</tspan><tspan dy="-1.4" font-size="1">&#8203;</tspan> ≤ 0</text>
<text x="625.20" y="74.60" font-family='"Liberation Sans", Arial, Helvetica, sans-serif' font-size="5.6" fill="#222" text-anchor="start"  >bandwidth</text>
<text x="625.20" y="80.80" font-family='"Liberation Sans", Arial, Helvetica, sans-serif' font-size="5.6" fill="#222" text-anchor="start"  >gain &lt; -3dB</text>
<circle cx="626.30" cy="54.10" r="1.30" fill="#f6b0a0" stroke="#e8302a" stroke-width="0.7"/>
<linearGradient id="cbc" x1="0" y1="1" x2="0" y2="0"><stop offset="0.0000" stop-color="#626eb6"/><stop offset="0.0625" stop-color="#6d7cc0"/><stop offset="0.1250" stop-color="#788ac9"/><stop offset="0.1875" stop-color="#879ad3"/><stop offset="0.2500" stop-color="#98aadc"/><stop offset="0.3125" stop-color="#aabae3"/><stop offset="0.3750" stop-color="#bdc9e8"/><stop offset="0.4375" stop-color="#d0d6e7"/><stop offset="0.5000" stop-color="#e3dedf"/><stop offset="0.5625" stop-color="#edd4cb"/><stop offset="0.6250" stop-color="#f1c6b7"/><stop offset="0.6875" stop-color="#f2b6a3"/><stop offset="0.7500" stop-color="#ec9f8c"/><stop offset="0.8125" stop-color="#e58573"/><stop offset="0.8750" stop-color="#d76f61"/><stop offset="0.9375" stop-color="#c85850"/><stop offset="1.0000" stop-color="#ba4644"/></linearGradient>
<rect x="663.30" y="10.20" width="5.40" height="106.90" fill="url(#cbc)" stroke="#2b2b2b" stroke-width="0.6" rx="0" />
<line x1="668.70" y1="117.10" x2="670.30" y2="117.10" stroke="#2b2b2b" stroke-width="0.5" />
<text x="672.00" y="119.50" font-family='"Liberation Sans", Arial, Helvetica, sans-serif' font-size="6.8" fill="#222" text-anchor="start"  >0</text>
<line x1="668.70" y1="104.57" x2="670.30" y2="104.57" stroke="#2b2b2b" stroke-width="0.5" />
<text x="672.00" y="106.97" font-family='"Liberation Sans", Arial, Helvetica, sans-serif' font-size="6.8" fill="#222" text-anchor="start"  >1</text>
<line x1="668.70" y1="92.04" x2="670.30" y2="92.04" stroke="#2b2b2b" stroke-width="0.5" />
<text x="672.00" y="94.44" font-family='"Liberation Sans", Arial, Helvetica, sans-serif' font-size="6.8" fill="#222" text-anchor="start"  >2</text>
<line x1="668.70" y1="79.50" x2="670.30" y2="79.50" stroke="#2b2b2b" stroke-width="0.5" />
<text x="672.00" y="81.90" font-family='"Liberation Sans", Arial, Helvetica, sans-serif' font-size="6.8" fill="#222" text-anchor="start"  >3</text>
<line x1="668.70" y1="66.97" x2="670.30" y2="66.97" stroke="#2b2b2b" stroke-width="0.5" />
<text x="672.00" y="69.37" font-family='"Liberation Sans", Arial, Helvetica, sans-serif' font-size="6.8" fill="#222" text-anchor="start"  >4</text>
<line x1="668.70" y1="54.44" x2="670.30" y2="54.44" stroke="#2b2b2b" stroke-width="0.5" />
<text x="672.00" y="56.84" font-family='"Liberation Sans", Arial, Helvetica, sans-serif' font-size="6.8" fill="#222" text-anchor="start"  >5</text>
<line x1="668.70" y1="41.91" x2="670.30" y2="41.91" stroke="#2b2b2b" stroke-width="0.5" />
<text x="672.00" y="44.31" font-family='"Liberation Sans", Arial, Helvetica, sans-serif' font-size="6.8" fill="#222" text-anchor="start"  >6</text>
<line x1="668.70" y1="29.37" x2="670.30" y2="29.37" stroke="#2b2b2b" stroke-width="0.5" />
<text x="672.00" y="31.77" font-family='"Liberation Sans", Arial, Helvetica, sans-serif' font-size="6.8" fill="#222" text-anchor="start"  >7</text>
<line x1="668.70" y1="16.84" x2="670.30" y2="16.84" stroke="#2b2b2b" stroke-width="0.5" />
<text x="672.00" y="19.24" font-family='"Liberation Sans", Arial, Helvetica, sans-serif' font-size="6.8" fill="#222" text-anchor="start"  >8</text>
<text transform="translate(678.6,64) rotate(90)" font-family='"Liberation Sans", Arial, Helvetica, sans-serif' font-size="8" fill="#222" text-anchor="middle">SNR</text>
<text x="0.00" y="184.30" font-family='"Liberation Sans", Arial, Helvetica, sans-serif' font-size="12.8" fill="#000" text-anchor="start"  >d</text>
<rect x="42.50" y="179.00" width="161.30" height="159.00" fill="none" stroke="#7d7d7d" stroke-width="0.8" rx="15" stroke-dasharray="7 4.5"/>
<line x1="0.00" y1="193.30" x2="161.00" y2="193.30" stroke="#2b2b2b" stroke-width="0.9" />
<line x1="0.00" y1="277.40" x2="161.00" y2="277.40" stroke="#2b2b2b" stroke-width="0.9" />
<line x1="46.50" y1="320.30" x2="171.50" y2="320.30" stroke="#2b2b2b" stroke-width="0.9" />
<path d="M14.30,193.30 V183.80 H33.30" stroke="#2b2b2b" stroke-width="0.8" fill="none" />
<polygon points="34.80,183.80 32.39,184.76 32.39,182.84" fill="#2b2b2b"/>
<path d="M13.80,277.40 V267.60 H33.80" stroke="#2b2b2b" stroke-width="0.8" fill="none" />
<polygon points="35.30,267.60 32.89,268.56 32.89,266.64" fill="#2b2b2b"/>
<path d="M56.00,320.30 V310.30 H77.00" stroke="#2b2b2b" stroke-width="0.8" fill="none" />
<polygon points="78.50,310.30 76.09,311.26 76.09,309.34" fill="#2b2b2b"/>
<text x="11.50" y="203.50" font-family='"Liberation Serif", "DejaVu Serif", serif' font-size="9.0" fill="#111" text-anchor="start" font-style="italic"  stroke="#111" stroke-width="0.2">X<tspan dy="1.8" font-size="68%" font-style="normal">1</tspan><tspan dy="-1.8" font-size="1">&#8203;</tspan></text>
<text x="12.00" y="286.50" font-family='"Liberation Serif", "DejaVu Serif", serif' font-size="9.0" fill="#111" text-anchor="start" font-style="italic"  stroke="#111" stroke-width="0.2">X<tspan dy="1.8" font-size="68%" font-style="normal">2</tspan><tspan dy="-1.8" font-size="1">&#8203;</tspan></text>
<text x="61.50" y="328.00" font-family='"Liberation Serif", "DejaVu Serif", serif' font-size="9.0" fill="#111" text-anchor="start" font-style="italic"  stroke="#111" stroke-width="0.2">P<tspan dy="1.8" font-size="68%">A′</tspan><tspan dy="-1.8" font-size="1">&#8203;</tspan></text>
<path d="M98.40,192.90 A3.4,3.4 0 0 1 105.20,192.90 Z" fill="#000"/>
<path d="M98.20,277.00 A3.4,3.4 0 0 1 105.00,277.00 Z" fill="#000"/>
<path d="M97.80,319.90 A3.4,3.4 0 0 1 104.60,319.90 Z" fill="#000"/>
<text x="100.00" y="201.00" font-family='"Liberation Serif", "DejaVu Serif", serif' font-size="9.0" fill="#111" text-anchor="start" font-style="italic"  stroke="#111" stroke-width="0.2">r<tspan dy="1.8" font-size="68%" font-style="normal">1</tspan><tspan dy="-1.8" font-size="1">&#8203;</tspan></text>
<text x="99.50" y="282.50" font-family='"Liberation Serif", "DejaVu Serif", serif' font-size="9.0" fill="#111" text-anchor="start" font-style="italic"  stroke="#111" stroke-width="0.2">r<tspan dy="1.8" font-size="68%" font-style="normal">2</tspan><tspan dy="-1.8" font-size="1">&#8203;</tspan></text>
<text x="99.50" y="325.30" font-family='"Liberation Serif", "DejaVu Serif", serif' font-size="9.0" fill="#111" text-anchor="start" font-style="italic"  stroke="#111" stroke-width="0.2">r<tspan dy="1.8" font-size="68%" font-style="normal">2</tspan><tspan dy="-1.8" font-size="1">&#8203;</tspan></text>
<path d="M118,217 H76 Q65.8,217 65.8,227 V305.5" stroke="#828282" stroke-width="0.8" fill="none" />
<polygon points="65.80,308.30 64.66,305.74 66.94,305.74" fill="#828282"/>
<path d="M142.8,211.5 Q143.5,205.8 149,205.8 H185 Q191.6,205.8 191.6,213 V257.4" stroke="#828282" stroke-width="0.8" fill="none" />
<polygon points="191.60,260.00 190.46,257.44 192.74,257.44" fill="#828282"/>
<line x1="151.30" y1="209.50" x2="151.30" y2="219.00" stroke="#828282" stroke-width="0.9" />
<path d="M151.3,214.4 H162 Q168,214.4 168,220.5 V288 Q168,294 162,294 H139.5" stroke="#828282" stroke-width="0.8" fill="none" />
<line x1="139.50" y1="250.50" x2="168.00" y2="250.50" stroke="#828282" stroke-width="0.8" />
<path d="M133.5,222.5 C132,229 121,231.8 106,232.8" stroke="#828282" stroke-width="0.8" fill="none" />
<path d="M131.5,245.2 C129,238 119,234 106,232.8" stroke="#828282" stroke-width="0.8" fill="none" />
<polygon points="103.50,232.80 106.74,231.23 106.74,234.37" fill="#828282"/>
<polygon points="120.50,189.20 140.50,189.20 140.50,184.80 150.20,193.90 140.50,203.00 140.50,198.60 120.50,198.60" fill="#ef7377" stroke="#2b2b2b" stroke-width="0.7" stroke-linejoin="miter"/>
<text x="133.00" y="196.30" font-family='"Liberation Sans", Arial, Helvetica, sans-serif' font-size="6.8" fill="#f4f4f4" text-anchor="middle"  >A</text>
<line x1="133.80" y1="199.00" x2="133.80" y2="209.00" stroke="#828282" stroke-width="0.7" />
<polygon points="133.80,211.50 132.66,208.94 134.94,208.94" fill="#828282"/>
<text x="124.50" y="206.50" font-family='"Liberation Serif", "DejaVu Serif", serif' font-size="9.0" fill="#111" text-anchor="start" font-style="italic"  stroke="#111" stroke-width="0.2">α</text>
<rect x="128.60" y="213.30" width="9.10" height="7.40" fill="#ef7377" stroke="#2b2b2b" stroke-width="0.6" rx="0" />
<circle cx="123.80" cy="217.00" r="6.00" fill="#ef7377" stroke="#2b2b2b" stroke-width="0.6"/>
<circle cx="142.50" cy="217.00" r="6.00" fill="#ef7377" stroke="#2b2b2b" stroke-width="0.6"/>
<text x="148.80" y="201.70" font-family='"Liberation Serif", "DejaVu Serif", serif' font-size="8.8" fill="#111" text-anchor="start" font-style="italic" textLength="54.5" stroke="#111" stroke-width="0.2">X<tspan dy="1.5" font-size="65%">E</tspan><tspan dy="-1.5" font-size="1">&#8203;</tspan> − K′ · β · X<tspan dy="1.5" font-size="65%">A</tspan><tspan dy="-1.5" font-size="1">&#8203;</tspan></text>
<circle cx="87.00" cy="242.00" r="6.00" fill="#5a9bd0" stroke="#2b2b2b" stroke-width="0.6"/>
<rect x="83.00" y="229.60" width="8.20" height="6.40" fill="#ef7377" stroke="#2b2b2b" stroke-width="0.6" rx="0" />
<circle cx="78.20" cy="232.80" r="6.00" fill="#ef7377" stroke="#2b2b2b" stroke-width="0.6"/>
<circle cx="96.00" cy="232.80" r="6.00" fill="#ef7377" stroke="#2b2b2b" stroke-width="0.6"/>
<text x="87.20" y="256.80" font-family='"Liberation Sans", Arial, Helvetica, sans-serif' font-size="8.5" fill="#111" text-anchor="middle"  >Ø</text>
<circle cx="134.00" cy="250.50" r="6.00" fill="#5a9bd0" stroke="#2b2b2b" stroke-width="0.6"/>
<circle cx="134.00" cy="293.80" r="6.00" fill="#5a9bd0" stroke="#2b2b2b" stroke-width="0.6"/>
<line x1="134.00" y1="272.50" x2="134.00" y2="260.00" stroke="#828282" stroke-width="0.7" />
<polygon points="134.00,257.30 135.14,259.86 132.86,259.86" fill="#828282"/>
<line x1="133.50" y1="315.50" x2="133.50" y2="303.30" stroke="#828282" stroke-width="0.7" />
<polygon points="133.50,300.60 134.64,303.16 132.36,303.16" fill="#828282"/>
<text x="119.50" y="265.80" font-family='"Liberation Serif", "DejaVu Serif", serif' font-size="8" fill="#111" text-anchor="start" font-style="italic"  stroke="#111" stroke-width="0.2">−β</text>
<text x="119.00" y="308.80" font-family='"Liberation Serif", "DejaVu Serif", serif' font-size="8" fill="#111" text-anchor="start" font-style="italic"  stroke="#111" stroke-width="0.2">−β</text>
<polygon points="120.50,272.70 140.50,272.70 140.50,268.30 150.20,277.40 140.50,286.50 140.50,282.10 120.50,282.10" fill="#5a9bd0" stroke="#2b2b2b" stroke-width="0.7" stroke-linejoin="miter"/>
<text x="133.00" y="279.80" font-family='"Liberation Sans", Arial, Helvetica, sans-serif' font-size="6.8" fill="#f4f4f4" text-anchor="middle"  >R</text>
<polygon points="119.30,315.70 139.30,315.70 139.30,311.30 149.00,320.40 139.30,329.50 139.30,325.10 119.30,325.10" fill="#5a9bd0" stroke="#2b2b2b" stroke-width="0.7" stroke-linejoin="miter"/>
<text x="131.80" y="322.80" font-family='"Liberation Sans", Arial, Helvetica, sans-serif' font-size="6.8" fill="#f4f4f4" text-anchor="middle"  >R</text>
<line x1="172.00" y1="271.40" x2="263.50" y2="271.40" stroke="#2b2b2b" stroke-width="0.9" />
<path d="M181.00,271.40 V261.20 H200.70" stroke="#2b2b2b" stroke-width="0.8" fill="none" />
<polygon points="202.20,261.20 199.79,262.16 199.79,260.24" fill="#2b2b2b"/>
<text x="188.60" y="279.30" font-family='"Liberation Serif", "DejaVu Serif", serif' font-size="9.0" fill="#111" text-anchor="start" font-style="italic"  stroke="#111" stroke-width="0.2">P<tspan dy="1.8" font-size="68%">A</tspan><tspan dy="-1.8" font-size="1">&#8203;</tspan></text>
<path d="M208.20,271.00 A3.5,3.5 0 0 1 215.20,271.00 Z" fill="#000"/>
<polygon points="225.60,266.90 245.60,266.90 245.60,262.40 254.80,271.50 245.60,280.60 245.60,276.10 225.60,276.10" fill="#d9cc94" stroke="#2b2b2b" stroke-width="0.8"/>
<text x="238.30" y="273.90" font-family='"Liberation Sans", Arial, Helvetica, sans-serif' font-size="7.3" fill="#222" text-anchor="middle"  >output</text>
<text x="156.00" y="334.00" font-family='"Liberation Sans", Arial, Helvetica, sans-serif' font-size="7.8" fill="#444" text-anchor="start"  >Closed loop</text>
<rect x="266.70" y="198.00" width="77.60" height="88.70" fill="none" stroke="#9a9a9a" stroke-width="0.7" rx="12" stroke-dasharray="6 4"/>
<rect x="272.50" y="182.50" width="13.80" height="10.50" fill="#666" stroke="none" stroke-width="0.6" rx="0" />
<text x="279.40" y="190.15" font-family='"Liberation Serif", "DejaVu Serif", serif' font-size="7.5" fill="#fff" text-anchor="middle" font-style="italic" >X<tspan dy="1.3" font-size="68%" font-style="normal">1</tspan><tspan dy="-1.3" font-size="1">&#8203;</tspan></text>
<rect x="317.00" y="182.50" width="13.80" height="10.50" fill="#666" stroke="none" stroke-width="0.6" rx="0" />
<text x="323.90" y="190.15" font-family='"Liberation Serif", "DejaVu Serif", serif' font-size="7.5" fill="#fff" text-anchor="middle" font-style="italic" >X<tspan dy="1.3" font-size="68%" font-style="normal">2</tspan><tspan dy="-1.3" font-size="1">&#8203;</tspan></text>
<rect x="272.50" y="206.50" width="13.80" height="10.50" fill="#000" stroke="none" stroke-width="0.6" rx="0" />
<text x="279.40" y="214.15" font-family='"Liberation Serif", "DejaVu Serif", serif' font-size="7.5" fill="#fff" text-anchor="middle" font-style="italic" >α</text>
<rect x="317.00" y="206.50" width="13.80" height="10.50" fill="#000" stroke="none" stroke-width="0.6" rx="0" />
<text x="323.90" y="214.15" font-family='"Liberation Serif", "DejaVu Serif", serif' font-size="7.5" fill="#fff" text-anchor="middle" font-style="italic" >−β</text>
<line x1="279.40" y1="193.00" x2="279.40" y2="204.20" stroke="#2b2b2b" stroke-width="0.85" />
<polygon points="279.40,206.50 278.14,203.67 280.66,203.67" fill="#2b2b2b"/>
<line x1="323.90" y1="193.00" x2="323.90" y2="204.20" stroke="#2b2b2b" stroke-width="0.85" />
<polygon points="323.90,206.50 322.64,203.67 325.16,203.67" fill="#2b2b2b"/>
<path d="M279.4,217 V226 Q279.4,232 285.4,232 H288.5" stroke="#2b2b2b" stroke-width="0.85" fill="none" />
<polygon points="291.00,232.00 288.17,233.26 288.17,230.74" fill="#2b2b2b"/>
<path d="M323.9,217 V226 Q323.9,232 317.9,232 H315.4" stroke="#2b2b2b" stroke-width="0.85" fill="none" />
<polygon points="313.00,232.00 315.83,230.74 315.83,233.26" fill="#2b2b2b"/>
<path d="M302,247.6 H335.5 Q339.3,247.6 339.3,244 V214.8 Q339.3,211.3 335.8,211.3 H333.5" stroke="#84badf" stroke-width="0.9" fill="none" />
<polygon points="331.00,211.30 333.83,210.04 333.83,212.56" fill="#84badf"/>
<circle cx="302.00" cy="232.00" r="10.80" fill="#e8926c" stroke="#2b2b2b" stroke-width="0.85"/>
<text x="302.00" y="237.00" font-family='"Liberation Serif", "DejaVu Serif", serif' font-size="14" fill="#222" text-anchor="middle"  >∑</text>
<line x1="302.00" y1="242.80" x2="302.00" y2="252.00" stroke="#2b2b2b" stroke-width="0.85" />
<polygon points="302.00,254.50 300.74,251.67 303.26,251.67" fill="#2b2b2b"/>
<rect x="286.80" y="254.50" width="30.40" height="28.50" fill="#b7c2d9" stroke="#2b2b2b" stroke-width="0.8" rx="5" />
<line x1="289.50" y1="280.50" x2="314.50" y2="257.50" stroke="#2b2b2b" stroke-width="0.9" />
<line x1="302.00" y1="283.00" x2="302.00" y2="293.00" stroke="#2b2b2b" stroke-width="0.85" />
<polygon points="302.00,295.60 300.74,292.77 303.26,292.77" fill="#2b2b2b"/>
<rect x="283.00" y="295.80" width="37.80" height="12.00" fill="#ddd2a0" stroke="#2b2b2b" stroke-width="0.8" rx="6" />
<text x="301.90" y="304.30" font-family='"Liberation Sans", Arial, Helvetica, sans-serif' font-size="7.6" fill="#111" text-anchor="middle"  >output</text>
<rect x="246.80" y="310.20" width="111.70" height="32.50" fill="#fff" stroke="#d9d9d9" stroke-width="0.8" rx="4.5" />
<text x="249.00" y="328.30" font-family='"Liberation Serif", "DejaVu Serif", serif' font-size="7.8" fill="#111" text-anchor="start" font-style="italic" textLength="36.5" stroke="#111" stroke-width="0.2">O(X<tspan dy="1.4" font-size="65%" font-style="normal">1</tspan><tspan dy="-1.4" font-size="1">&#8203;</tspan>,X<tspan dy="1.4" font-size="65%" font-style="normal">2</tspan><tspan dy="-1.4" font-size="1">&#8203;</tspan>) ≈</text>
<line x1="287.40" y1="325.20" x2="343.00" y2="325.20" stroke="#222" stroke-width="0.5" />
<text x="315.40" y="322.30" font-family='"Liberation Serif", "DejaVu Serif", serif' font-size="7.8" fill="#111" text-anchor="middle" font-style="italic"  stroke="#111" stroke-width="0.2">O<tspan dy="1.3" font-size="65%">max</tspan><tspan dy="-1.3" font-size="1">&#8203;</tspan></text>
<text x="315.20" y="333.40" font-family='"Liberation Serif", "DejaVu Serif", serif' font-size="7.8" fill="#111" text-anchor="middle" font-style="italic" textLength="54.5" stroke="#111" stroke-width="0.2">K<tspan dy="1.3" font-size="65%" font-style="normal">2</tspan><tspan dy="-1.3" font-size="1">&#8203;</tspan> + O<tspan dy="1.3" font-size="65%">max</tspan><tspan dy="-1.3" font-size="1">&#8203;</tspan> · β · K′</text>
<text x="344.00" y="328.30" font-family='"Liberation Serif", "DejaVu Serif", serif' font-size="7.8" fill="#111" text-anchor="start" font-style="italic"  stroke="#111" stroke-width="0.2">· X<tspan dy="1.4" font-size="65%">E</tspan><tspan dy="-1.4" font-size="1">&#8203;</tspan></text>
<text x="360.30" y="184.20" font-family='"Liberation Sans", Arial, Helvetica, sans-serif' font-size="12.8" fill="#000" text-anchor="start"  >e</text>
<clipPath id="clipe"><rect x="380.9" y="182.39999999999998" width="126.70000000000005" height="118.70000000000005"/></clipPath>
<line x1="386.60" y1="301.10" x2="386.60" y2="303.10" stroke="#2b2b2b" stroke-width="0.6" />
<text x="386.60" y="309.00" font-family='"Liberation Sans", Arial, Helvetica, sans-serif' font-size="6.3" fill="#222" text-anchor="middle"  >0.0</text>
<line x1="404.10" y1="301.10" x2="404.10" y2="303.10" stroke="#2b2b2b" stroke-width="0.6" />
<text x="404.10" y="309.00" font-family='"Liberation Sans", Arial, Helvetica, sans-serif' font-size="6.3" fill="#222" text-anchor="middle"  >2.5</text>
<line x1="421.60" y1="301.10" x2="421.60" y2="303.10" stroke="#2b2b2b" stroke-width="0.6" />
<text x="421.60" y="309.00" font-family='"Liberation Sans", Arial, Helvetica, sans-serif' font-size="6.3" fill="#222" text-anchor="middle"  >5.0</text>
<line x1="439.10" y1="301.10" x2="439.10" y2="303.10" stroke="#2b2b2b" stroke-width="0.6" />
<text x="439.10" y="309.00" font-family='"Liberation Sans", Arial, Helvetica, sans-serif' font-size="6.3" fill="#222" text-anchor="middle"  >7.5</text>
<line x1="456.60" y1="301.10" x2="456.60" y2="303.10" stroke="#2b2b2b" stroke-width="0.6" />
<text x="456.60" y="309.00" font-family='"Liberation Sans", Arial, Helvetica, sans-serif' font-size="6.3" fill="#222" text-anchor="middle"  >10.0</text>
<line x1="474.10" y1="301.10" x2="474.10" y2="303.10" stroke="#2b2b2b" stroke-width="0.6" />
<text x="474.10" y="309.00" font-family='"Liberation Sans", Arial, Helvetica, sans-serif' font-size="6.3" fill="#222" text-anchor="middle"  >12.5</text>
<line x1="491.60" y1="301.10" x2="491.60" y2="303.10" stroke="#2b2b2b" stroke-width="0.6" />
<text x="491.60" y="309.00" font-family='"Liberation Sans", Arial, Helvetica, sans-serif' font-size="6.3" fill="#222" text-anchor="middle"  >15.0</text>
<line x1="378.90" y1="301.30" x2="380.90" y2="301.30" stroke="#2b2b2b" stroke-width="0.6" />
<text x="378.70" y="303.60" font-family='"Liberation Sans", Arial, Helvetica, sans-serif' font-size="6.3" fill="#222" text-anchor="end"  >0</text>
<line x1="378.90" y1="280.85" x2="380.90" y2="280.85" stroke="#2b2b2b" stroke-width="0.6" />
<text x="378.70" y="283.15" font-family='"Liberation Sans", Arial, Helvetica, sans-serif' font-size="6.3" fill="#222" text-anchor="end"  >10</text>
<line x1="378.90" y1="260.40" x2="380.90" y2="260.40" stroke="#2b2b2b" stroke-width="0.6" />
<text x="378.70" y="262.70" font-family='"Liberation Sans", Arial, Helvetica, sans-serif' font-size="6.3" fill="#222" text-anchor="end"  >20</text>
<line x1="378.90" y1="239.95" x2="380.90" y2="239.95" stroke="#2b2b2b" stroke-width="0.6" />
<text x="378.70" y="242.25" font-family='"Liberation Sans", Arial, Helvetica, sans-serif' font-size="6.3" fill="#222" text-anchor="end"  >30</text>
<line x1="378.90" y1="219.50" x2="380.90" y2="219.50" stroke="#2b2b2b" stroke-width="0.6" />
<text x="378.70" y="221.80" font-family='"Liberation Sans", Arial, Helvetica, sans-serif' font-size="6.3" fill="#222" text-anchor="end"  >40</text>
<line x1="378.90" y1="199.05" x2="380.90" y2="199.05" stroke="#2b2b2b" stroke-width="0.6" />
<text x="378.70" y="201.35" font-family='"Liberation Sans", Arial, Helvetica, sans-serif' font-size="6.3" fill="#222" text-anchor="end"  >50</text>
<g clip-path="url(#clipe)" fill="#000">
<circle cx="394.3" cy="294.4" r="1.4"/>
<circle cx="387.6" cy="299.8" r="1.4"/>
<circle cx="386.6" cy="299.0" r="1.4"/>
<circle cx="405.7" cy="283.8" r="1.4"/>
<circle cx="401.1" cy="290.3" r="1.4"/>
<circle cx="400.1" cy="290.4" r="1.4"/>
<circle cx="387.6" cy="298.3" r="1.4"/>
<circle cx="409.7" cy="281.8" r="1.4"/>
<circle cx="386.8" cy="297.3" r="1.4"/>
<circle cx="401.0" cy="288.9" r="1.4"/>
<circle cx="390.9" cy="298.3" r="1.4"/>
<circle cx="386.6" cy="295.5" r="1.4"/>
<circle cx="386.8" cy="295.5" r="1.4"/>
<circle cx="387.1" cy="298.8" r="1.4"/>
<circle cx="413.3" cy="278.9" r="1.4"/>
<circle cx="392.9" cy="293.9" r="1.4"/>
<circle cx="387.5" cy="298.4" r="1.4"/>
<circle cx="387.9" cy="294.2" r="1.4"/>
<circle cx="401.4" cy="286.6" r="1.4"/>
<circle cx="405.9" cy="284.4" r="1.4"/>
<circle cx="392.4" cy="296.5" r="1.4"/>
<circle cx="394.3" cy="291.2" r="1.4"/>
<circle cx="392.0" cy="290.8" r="1.4"/>
<circle cx="412.4" cy="279.8" r="1.4"/>
<circle cx="412.8" cy="281.3" r="1.4"/>
<circle cx="391.5" cy="296.3" r="1.4"/>
<circle cx="401.1" cy="288.5" r="1.4"/>
<circle cx="388.9" cy="297.2" r="1.4"/>
<circle cx="391.5" cy="298.4" r="1.4"/>
<circle cx="395.0" cy="292.5" r="1.4"/>
<circle cx="386.7" cy="296.8" r="1.4"/>
<circle cx="395.6" cy="293.9" r="1.4"/>
<circle cx="388.7" cy="298.3" r="1.4"/>
<circle cx="404.2" cy="285.1" r="1.4"/>
<circle cx="387.2" cy="298.7" r="1.4"/>
<circle cx="401.3" cy="288.3" r="1.4"/>
<circle cx="386.7" cy="298.1" r="1.4"/>
<circle cx="399.3" cy="287.4" r="1.4"/>
<circle cx="386.8" cy="299.1" r="1.4"/>
<circle cx="389.8" cy="295.3" r="1.4"/>
<circle cx="394.3" cy="290.2" r="1.4"/>
<circle cx="411.9" cy="281.5" r="1.4"/>
<circle cx="387.9" cy="295.1" r="1.4"/>
<circle cx="388.2" cy="297.7" r="1.4"/>
<circle cx="403.3" cy="286.4" r="1.4"/>
<circle cx="389.5" cy="296.0" r="1.4"/>
<circle cx="404.1" cy="286.9" r="1.4"/>
<circle cx="386.6" cy="296.5" r="1.4"/>
<circle cx="413.8" cy="283.7" r="1.4"/>
<circle cx="395.1" cy="290.2" r="1.4"/>
<circle cx="404.8" cy="285.3" r="1.4"/>
<circle cx="406.6" cy="285.4" r="1.4"/>
<circle cx="395.8" cy="292.8" r="1.4"/>
<circle cx="394.4" cy="293.8" r="1.4"/>
<circle cx="411.5" cy="282.3" r="1.4"/>
<circle cx="409.2" cy="281.7" r="1.4"/>
<circle cx="408.3" cy="281.7" r="1.4"/>
<circle cx="389.7" cy="293.3" r="1.4"/>
<circle cx="401.3" cy="288.8" r="1.4"/>
<circle cx="401.7" cy="287.3" r="1.4"/>
<circle cx="389.3" cy="294.3" r="1.4"/>
<circle cx="400.9" cy="288.6" r="1.4"/>
<circle cx="408.8" cy="284.0" r="1.4"/>
<circle cx="392.9" cy="293.5" r="1.4"/>
<circle cx="413.0" cy="277.8" r="1.4"/>
<circle cx="396.8" cy="294.4" r="1.4"/>
<circle cx="412.2" cy="284.1" r="1.4"/>
<circle cx="403.7" cy="288.8" r="1.4"/>
<circle cx="409.5" cy="281.0" r="1.4"/>
<circle cx="404.9" cy="287.3" r="1.4"/>
<circle cx="391.6" cy="295.4" r="1.4"/>
<circle cx="402.8" cy="287.3" r="1.4"/>
<circle cx="401.9" cy="287.7" r="1.4"/>
<circle cx="409.6" cy="281.0" r="1.4"/>
<circle cx="409.9" cy="286.6" r="1.4"/>
<circle cx="396.0" cy="291.0" r="1.4"/>
<circle cx="387.1" cy="299.5" r="1.4"/>
<circle cx="391.3" cy="296.6" r="1.4"/>
<circle cx="401.1" cy="283.5" r="1.4"/>
<circle cx="396.2" cy="292.2" r="1.4"/>
<circle cx="396.0" cy="292.3" r="1.4"/>
<circle cx="401.5" cy="289.1" r="1.4"/>
<circle cx="392.5" cy="292.9" r="1.4"/>
<circle cx="390.6" cy="295.6" r="1.4"/>
<circle cx="387.1" cy="298.6" r="1.4"/>
<circle cx="390.4" cy="296.5" r="1.4"/>
<circle cx="400.0" cy="292.2" r="1.4"/>
<circle cx="410.9" cy="281.8" r="1.4"/>
<circle cx="394.7" cy="292.0" r="1.4"/>
<circle cx="393.5" cy="291.8" r="1.4"/>
<circle cx="391.0" cy="292.0" r="1.4"/>
<circle cx="389.0" cy="298.6" r="1.4"/>
<circle cx="471.5" cy="231.2" r="1.4"/>
<circle cx="472.6" cy="232.7" r="1.4"/>
<circle cx="458.3" cy="237.8" r="1.4"/>
<circle cx="461.4" cy="237.2" r="1.4"/>
<circle cx="464.4" cy="237.4" r="1.4"/>
<circle cx="470.5" cy="239.2" r="1.4"/>
<circle cx="473.0" cy="239.4" r="1.4"/>
<circle cx="452.6" cy="243.9" r="1.4"/>
<circle cx="459.9" cy="242.4" r="1.4"/>
<circle cx="459.3" cy="244.3" r="1.4"/>
<circle cx="468.1" cy="243.9" r="1.4"/>
<circle cx="470.5" cy="244.3" r="1.4"/>
<circle cx="456.7" cy="247.9" r="1.4"/>
<circle cx="455.9" cy="250.4" r="1.4"/>
<circle cx="454.2" cy="253.0" r="1.4"/>
<circle cx="455.3" cy="254.0" r="1.4"/>
<circle cx="466.0" cy="245.9" r="1.4"/>
<circle cx="490.5" cy="244.9" r="1.4"/>
<circle cx="497.0" cy="240.8" r="1.4"/>
<circle cx="499.0" cy="241.8" r="1.4"/>
<circle cx="501.0" cy="238.8" r="1.4"/>
<circle cx="502.1" cy="241.8" r="1.4"/>
<circle cx="500.0" cy="244.3" r="1.4"/>
<circle cx="501.0" cy="236.7" r="1.4"/>
<circle cx="476.2" cy="249.0" r="1.4"/>
<circle cx="469.5" cy="250.4" r="1.4"/>
<circle cx="470.5" cy="249.0" r="1.4"/>
<circle cx="442.0" cy="254.0" r="1.4"/>
<circle cx="443.1" cy="258.1" r="1.4"/>
<circle cx="441.6" cy="261.2" r="1.4"/>
<circle cx="446.1" cy="262.2" r="1.4"/>
<circle cx="448.1" cy="264.2" r="1.4"/>
<circle cx="447.1" cy="266.2" r="1.4"/>
<circle cx="451.2" cy="256.1" r="1.4"/>
<circle cx="452.2" cy="259.1" r="1.4"/>
<circle cx="454.2" cy="260.1" r="1.4"/>
<circle cx="452.2" cy="261.8" r="1.4"/>
<circle cx="460.3" cy="256.1" r="1.4"/>
<circle cx="452.1" cy="244.4" r="1.4"/>
<circle cx="458.8" cy="246.5" r="1.4"/>
<circle cx="467.4" cy="244.9" r="1.4"/>
<circle cx="453.8" cy="254.6" r="1.4"/>
<circle cx="476.1" cy="249.5" r="1.4"/>
<circle cx="442.6" cy="253.6" r="1.4"/>
<circle cx="458.8" cy="255.6" r="1.4"/>
<circle cx="451.7" cy="257.1" r="1.4"/>
<circle cx="453.1" cy="260.7" r="1.4"/>
<circle cx="431.4" cy="261.7" r="1.4"/>
<circle cx="433.4" cy="262.8" r="1.4"/>
<circle cx="441.5" cy="262.8" r="1.4"/>
<circle cx="440.5" cy="264.4" r="1.4"/>
<circle cx="446.6" cy="263.8" r="1.4"/>
<circle cx="446.6" cy="267.2" r="1.4"/>
<circle cx="428.3" cy="266.8" r="1.4"/>
<circle cx="430.3" cy="267.8" r="1.4"/>
<circle cx="429.3" cy="269.9" r="1.4"/>
<circle cx="427.3" cy="271.9" r="1.4"/>
<circle cx="436.5" cy="269.9" r="1.4"/>
<circle cx="438.5" cy="270.9" r="1.4"/>
<circle cx="434.4" cy="272.9" r="1.4"/>
<circle cx="422.2" cy="272.9" r="1.4"/>
<circle cx="424.2" cy="274.0" r="1.4"/>
<circle cx="423.2" cy="276.0" r="1.4"/>
<circle cx="421.2" cy="277.0" r="1.4"/>
<circle cx="425.3" cy="278.0" r="1.4"/>
<circle cx="411.0" cy="276.0" r="1.4"/>
<circle cx="413.0" cy="277.0" r="1.4"/>
<circle cx="414.0" cy="275.4" r="1.4"/>
<circle cx="430.0" cy="278.4" r="1.4"/>
<circle cx="435.4" cy="276.0" r="1.4"/>
<circle cx="440.1" cy="280.5" r="1.4"/>
<circle cx="445.6" cy="284.7" r="1.4"/>
<circle cx="429.3" cy="289.6" r="1.4"/>
<circle cx="418.1" cy="282.1" r="1.4"/>
<circle cx="416.1" cy="280.1" r="1.4"/>
<circle cx="410.0" cy="285.1" r="1.4"/>
<circle cx="412.0" cy="288.2" r="1.4"/>
<circle cx="415.1" cy="289.8" r="1.4"/>
<circle cx="417.1" cy="290.6" r="1.4"/>
<circle cx="411.0" cy="292.3" r="1.4"/>
<circle cx="388.0" cy="291.0" r="1.4"/>
<circle cx="389.5" cy="291.4" r="1.4"/>
<circle cx="391.0" cy="291.7" r="1.4"/>
<circle cx="392.5" cy="292.5" r="1.4"/>
<circle cx="402.5" cy="296.2" r="1.4"/>
<circle cx="403.5" cy="293.7" r="1.4"/>
<circle cx="410.5" cy="294.7" r="1.4"/>
<circle cx="414.0" cy="291.2" r="1.4"/>
<circle cx="416.5" cy="288.7" r="1.4"/>
<circle cx="407.0" cy="287.2" r="1.4"/>
<circle cx="405.0" cy="284.7" r="1.4"/>
<circle cx="408.0" cy="283.2" r="1.4"/>
<circle cx="406.5" cy="280.7" r="1.4"/>
<circle cx="409.0" cy="279.2" r="1.4"/>
<circle cx="404.0" cy="286.2" r="1.4"/>
<circle cx="401.0" cy="287.7" r="1.4"/>
<circle cx="399.5" cy="285.2" r="1.4"/>
<circle cx="398.0" cy="288.2" r="1.4"/>
</g>
<path d="M386.60,301.30 L388.00,300.36 L389.40,299.42 L390.80,298.49 L392.20,297.57 L393.60,296.65 L395.00,295.73 L396.40,294.82 L397.80,293.91 L399.20,293.01 L400.60,292.11 L402.00,291.22 L403.40,290.33 L404.80,289.44 L406.20,288.56 L407.60,287.68 L409.00,286.81 L410.40,285.94 L411.80,285.08 L413.20,284.22 L414.60,283.36 L416.00,282.51 L417.40,281.66 L418.80,280.82 L420.20,279.98 L421.60,279.15 L423.00,278.31 L424.40,277.49 L425.80,276.66 L427.20,275.84 L428.60,275.03 L430.00,274.22 L431.40,273.41 L432.80,272.60 L434.20,271.80 L435.60,271.01 L437.00,270.21 L438.40,269.42 L439.80,268.64 L441.20,267.85 L442.60,267.08 L444.00,266.30 L445.40,265.53 L446.80,264.76 L448.20,264.00 L449.60,263.24 L451.00,262.48 L452.40,261.72 L453.80,260.97 L455.20,260.22 L456.60,259.48 L458.00,258.74 L459.40,258.00 L460.80,257.27 L462.20,256.54 L463.60,255.81 L465.00,255.09 L466.40,254.36 L467.80,253.65 L469.20,252.93 L470.60,252.22 L472.00,251.51 L473.40,250.81 L474.80,250.10 L476.20,249.40 L477.60,248.71 L479.00,248.01 L480.40,247.32 L481.80,246.64 L483.20,245.95 L484.60,245.27 L486.00,244.59 L487.40,243.92 L488.80,243.24 L490.20,242.57 L491.60,241.91 L493.00,241.24 L494.40,240.58 L495.80,239.92 L497.20,239.27 L498.60,238.62 L500.00,237.97 L501.40,237.32" stroke="#000" stroke-width="1.15" fill="none" clip-path="url(#clipe)"/>
<line x1="386.60" y1="301.30" x2="501.75" y2="223.93" stroke="#22a7e0" stroke-width="1.3" stroke-dasharray="5 2.2" clip-path="url(#clipe)"/>
<text x="466.00" y="221.40" font-family='"DejaVu Sans", "Liberation Sans", sans-serif' font-size="6.5" fill="#22a7e0" text-anchor="start"  id="o23"><tspan font-style="oblique">O</tspan> = 2.3 · <tspan font-style="oblique">X</tspan><tspan dy="1.3" font-size="4.6">E</tspan></text>
<text x="457.20" y="287.90" font-family='"DejaVu Sans", "Liberation Sans", sans-serif' font-size="8" fill="#222" text-anchor="start"  textLength="40.9"><tspan font-style="oblique">R</tspan><tspan dy="-3" font-size="70%">2</tspan><tspan dy="3" font-size="1">&#8203;</tspan> = 0.997</text>
<rect x="380.90" y="182.40" width="126.70" height="118.70" fill="none" stroke="#2b2b2b" stroke-width="0.8" rx="0" />
<text x="443.30" y="317.50" font-family='"Liberation Sans", Arial, Helvetica, sans-serif' font-size="8.7" fill="#222" text-anchor="middle" font-style="italic" >X<tspan dy="1.4" font-size="64%">E</tspan><tspan dy="-1.4" font-size="1">&#8203;</tspan></text>
<text transform="translate(368.2,242.0) rotate(-90)" font-family='"Liberation Sans", Arial, Helvetica, sans-serif' font-size="7.9" fill="#333" text-anchor="middle">YFP expression level (RPU)</text>
<rect x="385.50" y="324.80" width="117.20" height="11.40" fill="#fff" stroke="#dcdcdc" stroke-width="0.7" rx="1.2" />
<line x1="390.30" y1="330.80" x2="399.20" y2="330.80" stroke="#000" stroke-width="1.0" />
<text x="404.20" y="332.80" font-family='"Liberation Sans", Arial, Helvetica, sans-serif' font-size="4.9" fill="#222" text-anchor="start"  textLength="33.3">Fitting function</text>
<line x1="440.30" y1="330.80" x2="450.00" y2="330.80" stroke="#22a7e0" stroke-width="1.0" stroke-dasharray="2.8 1.3"/>
<text x="452.30" y="332.80" font-family='"Liberation Sans", Arial, Helvetica, sans-serif' font-size="4.9" fill="#222" text-anchor="start"  textLength="48.5">Linear approximation</text>
<text x="518.70" y="184.20" font-family='"Liberation Sans", Arial, Helvetica, sans-serif' font-size="12.8" fill="#000" text-anchor="start"  >f</text>
<clipPath id="hcf"><rect x="540.2" y="185.5" width="116.0" height="106.89999999999998"/></clipPath>
<g clip-path="url(#hcf)">
<rect x="540.20" y="185.50" width="116.00" height="106.90" fill="#eef0f0" stroke="none" stroke-width="0.6" rx="0" />
<polygon points="528.42,286.23 650.64,173.90 675.09,200.51 552.87,312.83" fill="#626eb6"/>
<g shape-rendering="crispEdges">
<linearGradient id="gf0" gradientUnits="userSpaceOnUse" x1="540.20" y1="275.40" x2="564.65" y2="302.00"><stop offset="0.000" stop-color="#626eb6"/><stop offset="0.365" stop-color="#626eb6"/><stop offset="0.425" stop-color="#7283c4"/><stop offset="0.491" stop-color="#8698d2"/><stop offset="0.567" stop-color="#9eafde"/><stop offset="0.667" stop-color="#bcc8e8"/><stop offset="0.793" stop-color="#dadce6"/><stop offset="0.945" stop-color="#ecd4cc"/><stop offset="1.000" stop-color="#f0d0c3"/></linearGradient>
<polygon points="528.42,286.23 531.93,283.00 556.38,309.60 552.87,312.83" fill="url(#gf0)"/>
<linearGradient id="gf1" gradientUnits="userSpaceOnUse" x1="540.20" y1="275.40" x2="564.65" y2="302.00"><stop offset="0.000" stop-color="#626eb6"/><stop offset="0.361" stop-color="#626eb6"/><stop offset="0.418" stop-color="#7283c4"/><stop offset="0.479" stop-color="#8698d2"/><stop offset="0.550" stop-color="#9eafde"/><stop offset="0.644" stop-color="#bcc8e8"/><stop offset="0.762" stop-color="#dadce6"/><stop offset="0.904" stop-color="#ecd4cc"/><stop offset="1.000" stop-color="#f0cabc"/></linearGradient>
<polygon points="531.20,283.67 534.71,280.44 559.16,307.05 555.65,310.28" fill="url(#gf1)"/>
<linearGradient id="gf2" gradientUnits="userSpaceOnUse" x1="540.20" y1="275.40" x2="564.65" y2="302.00"><stop offset="0.000" stop-color="#626eb6"/><stop offset="0.357" stop-color="#626eb6"/><stop offset="0.408" stop-color="#7282c4"/><stop offset="0.464" stop-color="#8698d2"/><stop offset="0.528" stop-color="#9dafde"/><stop offset="0.614" stop-color="#bbc8e8"/><stop offset="0.722" stop-color="#dadce6"/><stop offset="0.850" stop-color="#ecd4cc"/><stop offset="1.000" stop-color="#f1c2b3"/></linearGradient>
<polygon points="533.97,281.12 537.49,277.89 561.94,304.50 558.42,307.73" fill="url(#gf2)"/>
<linearGradient id="gf3" gradientUnits="userSpaceOnUse" x1="540.20" y1="275.40" x2="564.65" y2="302.00"><stop offset="0.000" stop-color="#626eb6"/><stop offset="0.353" stop-color="#626eb6"/><stop offset="0.400" stop-color="#7282c4"/><stop offset="0.451" stop-color="#8598d2"/><stop offset="0.509" stop-color="#9dafde"/><stop offset="0.588" stop-color="#bbc7e8"/><stop offset="0.685" stop-color="#dadce6"/><stop offset="0.803" stop-color="#ecd5cc"/><stop offset="0.939" stop-color="#f1c3b3"/><stop offset="1.000" stop-color="#f1bcaa"/></linearGradient>
<polygon points="536.75,278.57 540.27,275.34 564.72,301.94 561.20,305.17" fill="url(#gf3)"/>
<linearGradient id="gf4" gradientUnits="userSpaceOnUse" x1="540.20" y1="275.40" x2="564.65" y2="302.00"><stop offset="0.000" stop-color="#626eb6"/><stop offset="0.350" stop-color="#626eb6"/><stop offset="0.393" stop-color="#7282c4"/><stop offset="0.439" stop-color="#8598d1"/><stop offset="0.493" stop-color="#9daede"/><stop offset="0.564" stop-color="#bac7e8"/><stop offset="0.653" stop-color="#d9dbe6"/><stop offset="0.760" stop-color="#ecd5cd"/><stop offset="0.884" stop-color="#f1c3b4"/><stop offset="1.000" stop-color="#f2b5a2"/></linearGradient>
<polygon points="539.53,276.02 543.04,272.79 567.49,299.39 563.98,302.62" fill="url(#gf4)"/>
<linearGradient id="gf5" gradientUnits="userSpaceOnUse" x1="540.20" y1="275.40" x2="564.65" y2="302.00"><stop offset="0.000" stop-color="#626eb6"/><stop offset="0.348" stop-color="#626eb6"/><stop offset="0.387" stop-color="#7182c4"/><stop offset="0.429" stop-color="#8597d1"/><stop offset="0.478" stop-color="#9caede"/><stop offset="0.543" stop-color="#b9c6e8"/><stop offset="0.624" stop-color="#d8dbe6"/><stop offset="0.721" stop-color="#ebd5ce"/><stop offset="0.834" stop-color="#f1c4b5"/><stop offset="1.000" stop-color="#f1ae9b"/></linearGradient>
<polygon points="542.31,273.46 545.82,270.23 570.27,296.84 566.76,300.07" fill="url(#gf5)"/>
<linearGradient id="gf6" gradientUnits="userSpaceOnUse" x1="540.20" y1="275.40" x2="564.65" y2="302.00"><stop offset="0.000" stop-color="#626eb6"/><stop offset="0.346" stop-color="#626eb6"/><stop offset="0.382" stop-color="#7182c4"/><stop offset="0.420" stop-color="#8497d1"/><stop offset="0.464" stop-color="#9baddd"/><stop offset="0.523" stop-color="#b9c6e8"/><stop offset="0.597" stop-color="#d7dae6"/><stop offset="0.686" stop-color="#ebd6cf"/><stop offset="0.789" stop-color="#f1c5b6"/><stop offset="0.936" stop-color="#f2b09d"/><stop offset="1.000" stop-color="#efa693"/></linearGradient>
<polygon points="545.09,270.91 548.60,267.68 573.05,294.28 569.54,297.51" fill="url(#gf6)"/>
<linearGradient id="gf7" gradientUnits="userSpaceOnUse" x1="540.20" y1="275.40" x2="564.65" y2="302.00"><stop offset="0.000" stop-color="#626eb6"/><stop offset="0.345" stop-color="#626eb6"/><stop offset="0.377" stop-color="#7182c4"/><stop offset="0.412" stop-color="#8497d1"/><stop offset="0.453" stop-color="#9baddd"/><stop offset="0.506" stop-color="#b8c5e8"/><stop offset="0.573" stop-color="#d6d9e6"/><stop offset="0.654" stop-color="#ead7d1"/><stop offset="0.748" stop-color="#f1c6b7"/><stop offset="0.882" stop-color="#f2b29e"/><stop offset="1.000" stop-color="#eda08c"/></linearGradient>
<polygon points="547.86,268.36 551.38,265.13 575.83,291.73 572.31,294.96" fill="url(#gf7)"/>
<linearGradient id="gf8" gradientUnits="userSpaceOnUse" x1="540.20" y1="275.40" x2="564.65" y2="302.00"><stop offset="0.000" stop-color="#626eb6"/><stop offset="0.344" stop-color="#626eb6"/><stop offset="0.373" stop-color="#7182c4"/><stop offset="0.405" stop-color="#8496d1"/><stop offset="0.442" stop-color="#9aacdd"/><stop offset="0.491" stop-color="#b7c5e8"/><stop offset="0.552" stop-color="#d5d8e6"/><stop offset="0.625" stop-color="#e9d8d2"/><stop offset="0.711" stop-color="#f1c7b9"/><stop offset="0.833" stop-color="#f2b4a0"/><stop offset="1.000" stop-color="#eb9a87"/></linearGradient>
<polygon points="550.64,265.80 554.16,262.57 578.61,289.18 575.09,292.41" fill="url(#gf8)"/>
<linearGradient id="gf9" gradientUnits="userSpaceOnUse" x1="540.20" y1="275.40" x2="564.65" y2="302.00"><stop offset="0.000" stop-color="#626eb6"/><stop offset="0.343" stop-color="#626eb6"/><stop offset="0.370" stop-color="#7181c3"/><stop offset="0.399" stop-color="#8396d0"/><stop offset="0.432" stop-color="#99abdd"/><stop offset="0.477" stop-color="#b6c4e8"/><stop offset="0.533" stop-color="#d3d8e6"/><stop offset="0.599" stop-color="#e9d8d4"/><stop offset="0.677" stop-color="#f0c9bb"/><stop offset="0.789" stop-color="#f2b5a2"/><stop offset="0.945" stop-color="#ec9c89"/><stop offset="1.000" stop-color="#ea9582"/></linearGradient>
<polygon points="553.42,263.25 556.93,260.02 581.38,286.63 577.87,289.86" fill="url(#gf9)"/>
<linearGradient id="gf10" gradientUnits="userSpaceOnUse" x1="540.20" y1="275.40" x2="564.65" y2="302.00"><stop offset="0.000" stop-color="#626eb6"/><stop offset="0.342" stop-color="#626eb6"/><stop offset="0.367" stop-color="#7181c3"/><stop offset="0.393" stop-color="#8395d0"/><stop offset="0.424" stop-color="#98abdc"/><stop offset="0.464" stop-color="#b5c3e7"/><stop offset="0.515" stop-color="#d2d7e6"/><stop offset="0.576" stop-color="#e8d9d5"/><stop offset="0.647" stop-color="#f0cabd"/><stop offset="0.749" stop-color="#f2b7a4"/><stop offset="0.891" stop-color="#ec9f8b"/><stop offset="1.000" stop-color="#e8917f"/></linearGradient>
<polygon points="556.20,260.70 559.71,257.47 584.16,284.07 580.65,287.30" fill="url(#gf10)"/>
<linearGradient id="gf11" gradientUnits="userSpaceOnUse" x1="540.20" y1="275.40" x2="564.65" y2="302.00"><stop offset="0.000" stop-color="#626eb6"/><stop offset="0.342" stop-color="#626eb6"/><stop offset="0.364" stop-color="#7181c3"/><stop offset="0.388" stop-color="#8295d0"/><stop offset="0.416" stop-color="#98aadc"/><stop offset="0.453" stop-color="#b4c2e7"/><stop offset="0.499" stop-color="#d0d6e7"/><stop offset="0.555" stop-color="#e7dad7"/><stop offset="0.619" stop-color="#f0ccbf"/><stop offset="0.712" stop-color="#f2b9a6"/><stop offset="0.842" stop-color="#eda28e"/><stop offset="1.000" stop-color="#e88e7c"/></linearGradient>
<polygon points="558.98,258.15 562.49,254.92 586.94,281.52 583.42,284.75" fill="url(#gf11)"/>
<linearGradient id="gf12" gradientUnits="userSpaceOnUse" x1="540.20" y1="275.40" x2="564.65" y2="302.00"><stop offset="0.000" stop-color="#626eb6"/><stop offset="0.342" stop-color="#626eb6"/><stop offset="0.362" stop-color="#7081c3"/><stop offset="0.384" stop-color="#8294cf"/><stop offset="0.409" stop-color="#97a9dc"/><stop offset="0.443" stop-color="#b2c1e7"/><stop offset="0.485" stop-color="#cfd5e7"/><stop offset="0.535" stop-color="#e6dbd9"/><stop offset="0.594" stop-color="#f0cec1"/><stop offset="0.679" stop-color="#f1bba9"/><stop offset="0.797" stop-color="#eea592"/><stop offset="0.949" stop-color="#e8917e"/><stop offset="1.000" stop-color="#e78c7a"/></linearGradient>
<polygon points="561.75,255.59 565.27,252.36 589.72,278.97 586.20,282.20" fill="url(#gf12)"/>
<linearGradient id="gf13" gradientUnits="userSpaceOnUse" x1="540.20" y1="275.40" x2="564.65" y2="302.00"><stop offset="0.000" stop-color="#626eb6"/><stop offset="0.341" stop-color="#626eb6"/><stop offset="0.360" stop-color="#7081c3"/><stop offset="0.380" stop-color="#8194cf"/><stop offset="0.403" stop-color="#96a9db"/><stop offset="0.433" stop-color="#b1c0e6"/><stop offset="0.472" stop-color="#cdd4e7"/><stop offset="0.518" stop-color="#e5dcdb"/><stop offset="0.572" stop-color="#f0cfc3"/><stop offset="0.649" stop-color="#f1bcab"/><stop offset="0.756" stop-color="#efa895"/><stop offset="0.895" stop-color="#e99582"/><stop offset="1.000" stop-color="#e68a78"/></linearGradient>
<polygon points="564.53,253.04 568.05,249.81 592.49,276.41 588.98,279.64" fill="url(#gf13)"/>
<linearGradient id="gf14" gradientUnits="userSpaceOnUse" x1="540.20" y1="275.40" x2="564.65" y2="302.00"><stop offset="0.000" stop-color="#626eb6"/><stop offset="0.341" stop-color="#626eb6"/><stop offset="0.358" stop-color="#7080c3"/><stop offset="0.376" stop-color="#8193cf"/><stop offset="0.397" stop-color="#95a8db"/><stop offset="0.425" stop-color="#b0bfe6"/><stop offset="0.460" stop-color="#ccd3e7"/><stop offset="0.502" stop-color="#e5dddd"/><stop offset="0.551" stop-color="#efd1c5"/><stop offset="0.621" stop-color="#f1bfae"/><stop offset="0.719" stop-color="#f0ac98"/><stop offset="0.846" stop-color="#eb9886"/><stop offset="1.000" stop-color="#e68977"/></linearGradient>
<polygon points="567.31,250.49 570.82,247.26 595.27,273.86 591.76,277.09" fill="url(#gf14)"/>
<linearGradient id="gf15" gradientUnits="userSpaceOnUse" x1="540.20" y1="275.40" x2="564.65" y2="302.00"><stop offset="0.000" stop-color="#626eb6"/><stop offset="0.341" stop-color="#626eb6"/><stop offset="0.356" stop-color="#7080c3"/><stop offset="0.373" stop-color="#8193cf"/><stop offset="0.392" stop-color="#94a7db"/><stop offset="0.417" stop-color="#afbee5"/><stop offset="0.449" stop-color="#cad2e7"/><stop offset="0.488" stop-color="#e3dedf"/><stop offset="0.533" stop-color="#eed2c8"/><stop offset="0.596" stop-color="#f1c1b1"/><stop offset="0.686" stop-color="#f1b09c"/><stop offset="0.801" stop-color="#ec9c89"/><stop offset="1.000" stop-color="#e68976"/></linearGradient>
<polygon points="570.09,247.93 573.60,244.70 598.05,271.31 594.54,274.54" fill="url(#gf15)"/>
<linearGradient id="gf16" gradientUnits="userSpaceOnUse" x1="540.20" y1="275.40" x2="564.65" y2="302.00"><stop offset="0.000" stop-color="#626eb6"/><stop offset="0.341" stop-color="#626eb6"/><stop offset="0.355" stop-color="#7080c2"/><stop offset="0.370" stop-color="#8092ce"/><stop offset="0.387" stop-color="#93a6da"/><stop offset="0.411" stop-color="#aebde5"/><stop offset="0.440" stop-color="#c9d0e7"/><stop offset="0.475" stop-color="#e1dde0"/><stop offset="0.516" stop-color="#edd3ca"/><stop offset="0.574" stop-color="#f1c3b3"/><stop offset="0.655" stop-color="#f2b39f"/><stop offset="0.760" stop-color="#eda18d"/><stop offset="1.000" stop-color="#e68876"/></linearGradient>
<polygon points="572.86,245.38 576.38,242.15 600.83,268.76 597.31,271.99" fill="url(#gf16)"/>
<linearGradient id="gf17" gradientUnits="userSpaceOnUse" x1="540.20" y1="275.40" x2="564.65" y2="302.00"><stop offset="0.000" stop-color="#626eb6"/><stop offset="0.340" stop-color="#626eb6"/><stop offset="0.353" stop-color="#7080c2"/><stop offset="0.367" stop-color="#8092ce"/><stop offset="0.383" stop-color="#93a6da"/><stop offset="0.404" stop-color="#acbce4"/><stop offset="0.431" stop-color="#c7cfe7"/><stop offset="0.463" stop-color="#e0dde1"/><stop offset="0.500" stop-color="#ecd5cc"/><stop offset="0.553" stop-color="#f1c5b6"/><stop offset="0.628" stop-color="#f2b5a2"/><stop offset="0.724" stop-color="#eea591"/><stop offset="1.000" stop-color="#e68876"/></linearGradient>
<polygon points="575.64,242.83 579.16,239.60 603.61,266.20 600.09,269.43" fill="url(#gf17)"/>
<linearGradient id="gf18" gradientUnits="userSpaceOnUse" x1="540.20" y1="275.40" x2="564.65" y2="302.00"><stop offset="0.000" stop-color="#626eb6"/><stop offset="0.340" stop-color="#626eb6"/><stop offset="0.352" stop-color="#7080c2"/><stop offset="0.365" stop-color="#7f92ce"/><stop offset="0.379" stop-color="#92a5da"/><stop offset="0.399" stop-color="#acbce4"/><stop offset="0.423" stop-color="#c7cfe7"/><stop offset="0.452" stop-color="#dfdde2"/><stop offset="0.486" stop-color="#ecd5cd"/><stop offset="0.535" stop-color="#f1c6b7"/><stop offset="0.603" stop-color="#f2b6a3"/><stop offset="0.690" stop-color="#efa693"/><stop offset="1.000" stop-color="#e58573"/></linearGradient>
<polygon points="578.42,240.28 581.93,237.05 606.38,263.65 602.87,266.88" fill="url(#gf18)"/>
<linearGradient id="gf19" gradientUnits="userSpaceOnUse" x1="540.20" y1="275.40" x2="564.65" y2="302.00"><stop offset="0.000" stop-color="#626eb6"/><stop offset="0.340" stop-color="#626eb6"/><stop offset="0.351" stop-color="#7080c2"/><stop offset="0.362" stop-color="#7f92ce"/><stop offset="0.376" stop-color="#92a5da"/><stop offset="0.394" stop-color="#acbbe4"/><stop offset="0.416" stop-color="#c6cfe7"/><stop offset="0.442" stop-color="#dfdde2"/><stop offset="0.473" stop-color="#ecd5cd"/><stop offset="0.518" stop-color="#f1c6b7"/><stop offset="0.580" stop-color="#f2b7a4"/><stop offset="0.660" stop-color="#efa794"/><stop offset="1.000" stop-color="#e48270"/></linearGradient>
<polygon points="581.20,237.72 584.71,234.49 609.16,261.10 605.65,264.33" fill="url(#gf19)"/>
<linearGradient id="gf20" gradientUnits="userSpaceOnUse" x1="540.20" y1="275.40" x2="564.65" y2="302.00"><stop offset="0.000" stop-color="#626eb6"/><stop offset="0.340" stop-color="#626eb6"/><stop offset="0.350" stop-color="#6f80c2"/><stop offset="0.360" stop-color="#7f92ce"/><stop offset="0.373" stop-color="#92a5da"/><stop offset="0.389" stop-color="#acbbe4"/><stop offset="0.409" stop-color="#c6cfe7"/><stop offset="0.433" stop-color="#dfdde2"/><stop offset="0.462" stop-color="#ecd5ce"/><stop offset="0.502" stop-color="#f1c6b8"/><stop offset="0.559" stop-color="#f2b7a5"/><stop offset="0.632" stop-color="#efa895"/><stop offset="1.000" stop-color="#e27f6e"/></linearGradient>
<polygon points="583.98,235.17 587.49,231.94 611.94,258.54 608.43,261.77" fill="url(#gf20)"/>
<linearGradient id="gf21" gradientUnits="userSpaceOnUse" x1="540.20" y1="275.40" x2="564.65" y2="302.00"><stop offset="0.000" stop-color="#626eb6"/><stop offset="0.340" stop-color="#626eb6"/><stop offset="0.349" stop-color="#6f80c2"/><stop offset="0.359" stop-color="#7f92ce"/><stop offset="0.370" stop-color="#92a5d9"/><stop offset="0.385" stop-color="#acbbe4"/><stop offset="0.403" stop-color="#c6cfe7"/><stop offset="0.425" stop-color="#dedde2"/><stop offset="0.451" stop-color="#ebd5ce"/><stop offset="0.488" stop-color="#f1c7b8"/><stop offset="0.540" stop-color="#f2b8a5"/><stop offset="0.607" stop-color="#f0a996"/><stop offset="1.000" stop-color="#e07d6c"/></linearGradient>
<polygon points="586.75,232.62 590.27,229.39 614.72,255.99 611.20,259.22" fill="url(#gf21)"/>
<linearGradient id="gf22" gradientUnits="userSpaceOnUse" x1="540.20" y1="275.40" x2="564.65" y2="302.00"><stop offset="0.000" stop-color="#626eb6"/><stop offset="0.340" stop-color="#626eb6"/><stop offset="0.348" stop-color="#6f7fc2"/><stop offset="0.357" stop-color="#7f92ce"/><stop offset="0.367" stop-color="#92a5d9"/><stop offset="0.381" stop-color="#acbbe4"/><stop offset="0.398" stop-color="#c6cfe7"/><stop offset="0.418" stop-color="#dedde3"/><stop offset="0.442" stop-color="#ebd6ce"/><stop offset="0.476" stop-color="#f1c7b9"/><stop offset="0.523" stop-color="#f2b8a6"/><stop offset="0.584" stop-color="#f0ab97"/><stop offset="1.000" stop-color="#df7a6a"/></linearGradient>
<polygon points="589.53,230.06 593.05,226.83 617.50,253.44 613.98,256.67" fill="url(#gf22)"/>
<linearGradient id="gf23" gradientUnits="userSpaceOnUse" x1="540.20" y1="275.40" x2="564.65" y2="302.00"><stop offset="0.000" stop-color="#626eb6"/><stop offset="0.340" stop-color="#626eb6"/><stop offset="0.348" stop-color="#6f7fc2"/><stop offset="0.356" stop-color="#7f92ce"/><stop offset="0.365" stop-color="#92a5d9"/><stop offset="0.377" stop-color="#abbbe4"/><stop offset="0.393" stop-color="#c6cee7"/><stop offset="0.411" stop-color="#dedde3"/><stop offset="0.433" stop-color="#ebd6cf"/><stop offset="0.464" stop-color="#f1c7b9"/><stop offset="0.507" stop-color="#f2b9a6"/><stop offset="0.563" stop-color="#f0ac98"/><stop offset="1.000" stop-color="#dd7768"/></linearGradient>
<polygon points="592.31,227.51 595.82,224.28 620.27,250.89 616.76,254.12" fill="url(#gf23)"/>
<linearGradient id="gf24" gradientUnits="userSpaceOnUse" x1="540.20" y1="275.40" x2="564.65" y2="302.00"><stop offset="0.000" stop-color="#626eb6"/><stop offset="0.340" stop-color="#626eb6"/><stop offset="0.347" stop-color="#6f7fc2"/><stop offset="0.354" stop-color="#7f91ce"/><stop offset="0.363" stop-color="#92a5d9"/><stop offset="0.374" stop-color="#abbbe4"/><stop offset="0.388" stop-color="#c6cee7"/><stop offset="0.405" stop-color="#dedde3"/><stop offset="0.425" stop-color="#ebd6cf"/><stop offset="0.454" stop-color="#f1c8ba"/><stop offset="0.493" stop-color="#f2b9a7"/><stop offset="0.544" stop-color="#f0ad99"/><stop offset="1.000" stop-color="#db7566"/></linearGradient>
<polygon points="595.09,224.96 598.60,221.73 623.05,248.33 619.54,251.56" fill="url(#gf24)"/>
<linearGradient id="gf25" gradientUnits="userSpaceOnUse" x1="540.20" y1="275.40" x2="564.65" y2="302.00"><stop offset="0.000" stop-color="#626eb6"/><stop offset="0.340" stop-color="#626eb6"/><stop offset="0.346" stop-color="#6f7fc2"/><stop offset="0.353" stop-color="#7f91ce"/><stop offset="0.361" stop-color="#92a5d9"/><stop offset="0.371" stop-color="#abbbe4"/><stop offset="0.384" stop-color="#c5cee7"/><stop offset="0.400" stop-color="#dedde3"/><stop offset="0.418" stop-color="#ebd6cf"/><stop offset="0.444" stop-color="#f1c8ba"/><stop offset="0.480" stop-color="#f1baa8"/><stop offset="0.527" stop-color="#f1ae9a"/><stop offset="1.000" stop-color="#d97264"/></linearGradient>
<polygon points="597.87,222.41 601.38,219.18 625.83,245.78 622.31,249.01" fill="url(#gf25)"/>
<linearGradient id="gf26" gradientUnits="userSpaceOnUse" x1="540.20" y1="275.40" x2="564.65" y2="302.00"><stop offset="0.000" stop-color="#626eb6"/><stop offset="0.340" stop-color="#626eb6"/><stop offset="0.346" stop-color="#6f7fc2"/><stop offset="0.352" stop-color="#7f91ce"/><stop offset="0.359" stop-color="#92a5d9"/><stop offset="0.369" stop-color="#abbbe4"/><stop offset="0.381" stop-color="#c5cee7"/><stop offset="0.395" stop-color="#dddde3"/><stop offset="0.411" stop-color="#ebd6d0"/><stop offset="0.435" stop-color="#f1c8ba"/><stop offset="0.469" stop-color="#f1baa8"/><stop offset="0.511" stop-color="#f1af9b"/><stop offset="1.000" stop-color="#d76f62"/></linearGradient>
<polygon points="600.64,219.85 604.16,216.62 628.61,243.23 625.09,246.46" fill="url(#gf26)"/>
<linearGradient id="gf27" gradientUnits="userSpaceOnUse" x1="540.20" y1="275.40" x2="564.65" y2="302.00"><stop offset="0.000" stop-color="#626eb6"/><stop offset="0.340" stop-color="#626eb6"/><stop offset="0.345" stop-color="#6f7fc2"/><stop offset="0.351" stop-color="#7f91ce"/><stop offset="0.358" stop-color="#92a5d9"/><stop offset="0.366" stop-color="#abbbe4"/><stop offset="0.377" stop-color="#c5cee7"/><stop offset="0.390" stop-color="#dddde4"/><stop offset="0.406" stop-color="#ead6d0"/><stop offset="0.427" stop-color="#f0c9bb"/><stop offset="0.458" stop-color="#f1bba9"/><stop offset="0.497" stop-color="#f1b09c"/><stop offset="1.000" stop-color="#d66d60"/></linearGradient>
<polygon points="603.42,217.30 606.94,214.07 631.38,240.67 627.87,243.90" fill="url(#gf27)"/>
<linearGradient id="gf28" gradientUnits="userSpaceOnUse" x1="540.20" y1="275.40" x2="564.65" y2="302.00"><stop offset="0.000" stop-color="#626eb6"/><stop offset="0.340" stop-color="#626eb6"/><stop offset="0.345" stop-color="#6f7fc2"/><stop offset="0.350" stop-color="#7f91ce"/><stop offset="0.356" stop-color="#92a5d9"/><stop offset="0.364" stop-color="#abbae4"/><stop offset="0.374" stop-color="#c5cee7"/><stop offset="0.386" stop-color="#dddde4"/><stop offset="0.400" stop-color="#ead7d0"/><stop offset="0.420" stop-color="#f0c9bb"/><stop offset="0.448" stop-color="#f1bba9"/><stop offset="0.484" stop-color="#f2b19d"/><stop offset="1.000" stop-color="#d46a5e"/></linearGradient>
<polygon points="606.20,214.75 609.71,211.52 634.16,238.12 630.65,241.35" fill="url(#gf28)"/>
<linearGradient id="gf29" gradientUnits="userSpaceOnUse" x1="540.20" y1="275.40" x2="564.65" y2="302.00"><stop offset="0.000" stop-color="#626eb6"/><stop offset="0.340" stop-color="#626eb6"/><stop offset="0.344" stop-color="#6f7fc2"/><stop offset="0.349" stop-color="#7f91ce"/><stop offset="0.355" stop-color="#92a5d9"/><stop offset="0.362" stop-color="#abbae3"/><stop offset="0.371" stop-color="#c5cee7"/><stop offset="0.382" stop-color="#dddde4"/><stop offset="0.395" stop-color="#ead7d1"/><stop offset="0.414" stop-color="#f0c9bc"/><stop offset="0.439" stop-color="#f1bbaa"/><stop offset="0.472" stop-color="#f2b19e"/><stop offset="1.000" stop-color="#d2675c"/></linearGradient>
<polygon points="608.98,212.19 612.49,208.96 636.94,235.57 633.43,238.80" fill="url(#gf29)"/>
<linearGradient id="gf30" gradientUnits="userSpaceOnUse" x1="540.20" y1="275.40" x2="564.65" y2="302.00"><stop offset="0.000" stop-color="#626eb6"/><stop offset="0.340" stop-color="#626eb6"/><stop offset="0.344" stop-color="#6f7fc2"/><stop offset="0.348" stop-color="#7f91ce"/><stop offset="0.354" stop-color="#92a5d9"/><stop offset="0.360" stop-color="#abbae3"/><stop offset="0.369" stop-color="#c5cee7"/><stop offset="0.379" stop-color="#dddde4"/><stop offset="0.391" stop-color="#ead7d1"/><stop offset="0.408" stop-color="#f0cabc"/><stop offset="0.431" stop-color="#f1bcaa"/><stop offset="0.462" stop-color="#f2b29e"/><stop offset="1.000" stop-color="#d0645a"/></linearGradient>
<polygon points="611.75,209.64 615.27,206.41 639.72,233.02 636.20,236.25" fill="url(#gf30)"/>
<linearGradient id="gf31" gradientUnits="userSpaceOnUse" x1="540.20" y1="275.40" x2="564.65" y2="302.00"><stop offset="0.000" stop-color="#626eb6"/><stop offset="0.340" stop-color="#626eb6"/><stop offset="0.344" stop-color="#6f7fc2"/><stop offset="0.348" stop-color="#7f91ce"/><stop offset="0.352" stop-color="#92a4d9"/><stop offset="0.359" stop-color="#abbae3"/><stop offset="0.366" stop-color="#c4cee7"/><stop offset="0.376" stop-color="#dcdce4"/><stop offset="0.387" stop-color="#ead7d1"/><stop offset="0.402" stop-color="#f0cabc"/><stop offset="0.424" stop-color="#f1bcab"/><stop offset="0.452" stop-color="#f2b39f"/><stop offset="1.000" stop-color="#cf6257"/></linearGradient>
<polygon points="614.53,207.09 618.05,203.86 642.50,230.46 638.98,233.69" fill="url(#gf31)"/>
<linearGradient id="gf32" gradientUnits="userSpaceOnUse" x1="540.20" y1="275.40" x2="564.65" y2="302.00"><stop offset="0.000" stop-color="#626eb6"/><stop offset="0.340" stop-color="#626eb6"/><stop offset="0.343" stop-color="#6f7fc2"/><stop offset="0.347" stop-color="#7f91cd"/><stop offset="0.351" stop-color="#91a4d9"/><stop offset="0.357" stop-color="#aabae3"/><stop offset="0.364" stop-color="#c4cee7"/><stop offset="0.373" stop-color="#dcdce4"/><stop offset="0.383" stop-color="#ead7d1"/><stop offset="0.397" stop-color="#f0cabd"/><stop offset="0.417" stop-color="#f1bdab"/><stop offset="0.443" stop-color="#f2b3a0"/><stop offset="1.000" stop-color="#cd5f55"/></linearGradient>
<polygon points="617.31,204.54 620.82,201.31 645.27,227.91 641.76,231.14" fill="url(#gf32)"/>
<linearGradient id="gf33" gradientUnits="userSpaceOnUse" x1="540.20" y1="275.40" x2="564.65" y2="302.00"><stop offset="0.000" stop-color="#626eb6"/><stop offset="0.340" stop-color="#626eb6"/><stop offset="0.343" stop-color="#6f7fc2"/><stop offset="0.347" stop-color="#7f91cd"/><stop offset="0.351" stop-color="#91a4d9"/><stop offset="0.356" stop-color="#aabae3"/><stop offset="0.362" stop-color="#c4cde7"/><stop offset="0.370" stop-color="#dcdce4"/><stop offset="0.380" stop-color="#ead7d2"/><stop offset="0.393" stop-color="#f0cbbd"/><stop offset="0.411" stop-color="#f1bdac"/><stop offset="0.435" stop-color="#f2b4a0"/><stop offset="1.000" stop-color="#cb5c53"/></linearGradient>
<polygon points="620.09,201.98 623.60,198.75 648.05,225.36 644.54,228.59" fill="url(#gf33)"/>
<linearGradient id="gf34" gradientUnits="userSpaceOnUse" x1="540.20" y1="275.40" x2="564.65" y2="302.00"><stop offset="0.000" stop-color="#626eb6"/><stop offset="0.340" stop-color="#626eb6"/><stop offset="0.343" stop-color="#6f7fc2"/><stop offset="0.346" stop-color="#7f91cd"/><stop offset="0.350" stop-color="#91a4d9"/><stop offset="0.355" stop-color="#aabae3"/><stop offset="0.361" stop-color="#c4cde7"/><stop offset="0.368" stop-color="#dcdce5"/><stop offset="0.377" stop-color="#ead7d2"/><stop offset="0.389" stop-color="#f0cbbd"/><stop offset="0.406" stop-color="#f1bdac"/><stop offset="0.428" stop-color="#f2b4a1"/><stop offset="1.000" stop-color="#c95a51"/></linearGradient>
<polygon points="622.87,199.43 626.38,196.20 650.83,222.80 647.32,226.03" fill="url(#gf34)"/>
<linearGradient id="gf35" gradientUnits="userSpaceOnUse" x1="540.20" y1="275.40" x2="564.65" y2="302.00"><stop offset="0.000" stop-color="#626eb6"/><stop offset="0.340" stop-color="#626eb6"/><stop offset="0.343" stop-color="#6f7fc2"/><stop offset="0.346" stop-color="#7f91cd"/><stop offset="0.349" stop-color="#91a4d9"/><stop offset="0.354" stop-color="#aabae3"/><stop offset="0.359" stop-color="#c4cde7"/><stop offset="0.366" stop-color="#dcdce5"/><stop offset="0.374" stop-color="#e9d8d2"/><stop offset="0.385" stop-color="#f0cbbe"/><stop offset="0.401" stop-color="#f1bead"/><stop offset="0.421" stop-color="#f2b5a1"/><stop offset="1.000" stop-color="#c7574f"/></linearGradient>
<polygon points="625.64,196.88 629.16,193.65 653.61,220.25 650.09,223.48" fill="url(#gf35)"/>
<linearGradient id="gf36" gradientUnits="userSpaceOnUse" x1="540.20" y1="275.40" x2="564.65" y2="302.00"><stop offset="0.000" stop-color="#626eb6"/><stop offset="0.340" stop-color="#626eb6"/><stop offset="0.343" stop-color="#6f7fc2"/><stop offset="0.345" stop-color="#7f91cd"/><stop offset="0.348" stop-color="#91a4d9"/><stop offset="0.353" stop-color="#aabae3"/><stop offset="0.358" stop-color="#c4cde7"/><stop offset="0.364" stop-color="#dcdce5"/><stop offset="0.371" stop-color="#e9d8d2"/><stop offset="0.382" stop-color="#f0cbbe"/><stop offset="0.396" stop-color="#f1bead"/><stop offset="0.415" stop-color="#f2b5a2"/><stop offset="1.000" stop-color="#c6554e"/></linearGradient>
<polygon points="628.42,194.32 631.94,191.09 656.39,217.70 652.87,220.93" fill="url(#gf36)"/>
<linearGradient id="gf37" gradientUnits="userSpaceOnUse" x1="540.20" y1="275.40" x2="564.65" y2="302.00"><stop offset="0.000" stop-color="#626eb6"/><stop offset="0.340" stop-color="#626eb6"/><stop offset="0.342" stop-color="#6f7fc2"/><stop offset="0.345" stop-color="#7f91cd"/><stop offset="0.348" stop-color="#91a4d9"/><stop offset="0.352" stop-color="#aabae3"/><stop offset="0.356" stop-color="#c4cde7"/><stop offset="0.362" stop-color="#dbdce5"/><stop offset="0.369" stop-color="#e9d8d3"/><stop offset="0.379" stop-color="#f0cbbe"/><stop offset="0.392" stop-color="#f1bead"/><stop offset="0.410" stop-color="#f2b5a2"/><stop offset="1.000" stop-color="#c4534d"/></linearGradient>
<polygon points="631.20,191.77 634.71,188.54 659.16,215.15 655.65,218.38" fill="url(#gf37)"/>
<linearGradient id="gf38" gradientUnits="userSpaceOnUse" x1="540.20" y1="275.40" x2="564.65" y2="302.00"><stop offset="0.000" stop-color="#626eb6"/><stop offset="0.340" stop-color="#626eb6"/><stop offset="0.342" stop-color="#6f7fc2"/><stop offset="0.344" stop-color="#7f91cd"/><stop offset="0.347" stop-color="#91a4d9"/><stop offset="0.351" stop-color="#aabae3"/><stop offset="0.355" stop-color="#c4cde7"/><stop offset="0.361" stop-color="#dbdce5"/><stop offset="0.367" stop-color="#e9d8d3"/><stop offset="0.376" stop-color="#f0ccbe"/><stop offset="0.388" stop-color="#f1beae"/><stop offset="0.405" stop-color="#f2b6a3"/><stop offset="1.000" stop-color="#c2514b"/></linearGradient>
<polygon points="633.98,189.22 637.49,185.99 661.94,212.59 658.43,215.82" fill="url(#gf38)"/>
<linearGradient id="gf39" gradientUnits="userSpaceOnUse" x1="540.20" y1="275.40" x2="564.65" y2="302.00"><stop offset="0.000" stop-color="#626eb6"/><stop offset="0.340" stop-color="#626eb6"/><stop offset="0.342" stop-color="#6f7fc2"/><stop offset="0.344" stop-color="#7f91cd"/><stop offset="0.347" stop-color="#91a4d9"/><stop offset="0.350" stop-color="#aabae3"/><stop offset="0.354" stop-color="#c3cde7"/><stop offset="0.359" stop-color="#dbdce5"/><stop offset="0.365" stop-color="#e9d8d3"/><stop offset="0.373" stop-color="#f0ccbf"/><stop offset="0.385" stop-color="#f1bfae"/><stop offset="0.400" stop-color="#f2b6a3"/><stop offset="1.000" stop-color="#c14f4a"/></linearGradient>
<polygon points="636.76,186.67 640.27,183.44 664.72,210.04 661.20,213.27" fill="url(#gf39)"/>
<linearGradient id="gf40" gradientUnits="userSpaceOnUse" x1="540.20" y1="275.40" x2="564.65" y2="302.00"><stop offset="0.000" stop-color="#626eb6"/><stop offset="0.340" stop-color="#626eb6"/><stop offset="0.342" stop-color="#6f7fc2"/><stop offset="0.344" stop-color="#7f91cd"/><stop offset="0.346" stop-color="#91a4d9"/><stop offset="0.349" stop-color="#aabae3"/><stop offset="0.353" stop-color="#c3cde7"/><stop offset="0.358" stop-color="#dbdce5"/><stop offset="0.363" stop-color="#e9d8d3"/><stop offset="0.371" stop-color="#f0ccbf"/><stop offset="0.382" stop-color="#f1bfae"/><stop offset="0.396" stop-color="#f2b6a3"/><stop offset="1.000" stop-color="#bf4c48"/></linearGradient>
<polygon points="639.53,184.11 643.05,180.88 667.50,207.49 663.98,210.72" fill="url(#gf40)"/>
<linearGradient id="gf41" gradientUnits="userSpaceOnUse" x1="540.20" y1="275.40" x2="564.65" y2="302.00"><stop offset="0.000" stop-color="#626eb6"/><stop offset="0.340" stop-color="#626eb6"/><stop offset="0.342" stop-color="#6f7fc2"/><stop offset="0.344" stop-color="#7f91cd"/><stop offset="0.346" stop-color="#91a4d9"/><stop offset="0.349" stop-color="#aabae3"/><stop offset="0.352" stop-color="#c3cde7"/><stop offset="0.357" stop-color="#dbdce5"/><stop offset="0.362" stop-color="#e9d8d3"/><stop offset="0.369" stop-color="#f0ccbf"/><stop offset="0.379" stop-color="#f1bfaf"/><stop offset="0.392" stop-color="#f2b7a4"/><stop offset="1.000" stop-color="#bd4a47"/></linearGradient>
<polygon points="642.31,181.56 645.83,178.33 670.27,204.93 666.76,208.16" fill="url(#gf41)"/>
<linearGradient id="gf42" gradientUnits="userSpaceOnUse" x1="540.20" y1="275.40" x2="564.65" y2="302.00"><stop offset="0.000" stop-color="#626eb6"/><stop offset="0.340" stop-color="#626eb6"/><stop offset="0.342" stop-color="#6f7fc2"/><stop offset="0.343" stop-color="#7f91cd"/><stop offset="0.345" stop-color="#91a4d9"/><stop offset="0.348" stop-color="#aab9e3"/><stop offset="0.352" stop-color="#c3cde7"/><stop offset="0.356" stop-color="#dbdce5"/><stop offset="0.360" stop-color="#e9d8d3"/><stop offset="0.367" stop-color="#f0ccbf"/><stop offset="0.377" stop-color="#f1bfaf"/><stop offset="0.389" stop-color="#f2b7a4"/><stop offset="1.000" stop-color="#bc4845"/></linearGradient>
<polygon points="645.09,179.01 648.60,175.78 673.05,202.38 669.54,205.61" fill="url(#gf42)"/>
<linearGradient id="gf43" gradientUnits="userSpaceOnUse" x1="540.20" y1="275.40" x2="564.65" y2="302.00"><stop offset="0.000" stop-color="#626eb6"/><stop offset="0.340" stop-color="#626eb6"/><stop offset="0.342" stop-color="#6f7fc2"/><stop offset="0.343" stop-color="#7f91cd"/><stop offset="0.345" stop-color="#91a4d9"/><stop offset="0.348" stop-color="#aab9e3"/><stop offset="0.351" stop-color="#c3cde7"/><stop offset="0.355" stop-color="#dbdce5"/><stop offset="0.360" stop-color="#e9d8d3"/><stop offset="0.366" stop-color="#f0ccbf"/><stop offset="0.376" stop-color="#f1bfaf"/><stop offset="0.387" stop-color="#f2b7a4"/><stop offset="1.000" stop-color="#bb4745"/></linearGradient>
<polygon points="647.87,176.45 651.38,173.22 675.83,199.83 672.32,203.06" fill="url(#gf43)"/>
</g>
<line x1="532.84" y1="282.17" x2="658.01" y2="167.13" stroke="#111" stroke-width="0.9" />
<line x1="567.74" y1="299.17" x2="692.91" y2="184.13" stroke="#111" stroke-width="0.9" />
</g>
<rect x="540.20" y="185.50" width="116.00" height="106.90" fill="none" stroke="#2b2b2b" stroke-width="0.9" rx="0" />
<line x1="557.66" y1="292.40" x2="557.66" y2="293.60" stroke="#2b2b2b" stroke-width="0.4" />
<line x1="539.00" y1="276.31" x2="540.20" y2="276.31" stroke="#2b2b2b" stroke-width="0.4" />
<line x1="567.87" y1="292.40" x2="567.87" y2="293.60" stroke="#2b2b2b" stroke-width="0.4" />
<line x1="539.00" y1="266.90" x2="540.20" y2="266.90" stroke="#2b2b2b" stroke-width="0.4" />
<line x1="575.12" y1="292.40" x2="575.12" y2="293.60" stroke="#2b2b2b" stroke-width="0.4" />
<line x1="539.00" y1="260.22" x2="540.20" y2="260.22" stroke="#2b2b2b" stroke-width="0.4" />
<line x1="580.74" y1="292.40" x2="580.74" y2="293.60" stroke="#2b2b2b" stroke-width="0.4" />
<line x1="539.00" y1="255.04" x2="540.20" y2="255.04" stroke="#2b2b2b" stroke-width="0.4" />
<line x1="585.33" y1="292.40" x2="585.33" y2="293.60" stroke="#2b2b2b" stroke-width="0.4" />
<line x1="539.00" y1="250.81" x2="540.20" y2="250.81" stroke="#2b2b2b" stroke-width="0.4" />
<line x1="589.22" y1="292.40" x2="589.22" y2="293.60" stroke="#2b2b2b" stroke-width="0.4" />
<line x1="539.00" y1="247.23" x2="540.20" y2="247.23" stroke="#2b2b2b" stroke-width="0.4" />
<line x1="592.58" y1="292.40" x2="592.58" y2="293.60" stroke="#2b2b2b" stroke-width="0.4" />
<line x1="539.00" y1="244.13" x2="540.20" y2="244.13" stroke="#2b2b2b" stroke-width="0.4" />
<line x1="595.55" y1="292.40" x2="595.55" y2="293.60" stroke="#2b2b2b" stroke-width="0.4" />
<line x1="539.00" y1="241.40" x2="540.20" y2="241.40" stroke="#2b2b2b" stroke-width="0.4" />
<line x1="615.66" y1="292.40" x2="615.66" y2="293.60" stroke="#2b2b2b" stroke-width="0.4" />
<line x1="539.00" y1="222.86" x2="540.20" y2="222.86" stroke="#2b2b2b" stroke-width="0.4" />
<line x1="625.87" y1="292.40" x2="625.87" y2="293.60" stroke="#2b2b2b" stroke-width="0.4" />
<line x1="539.00" y1="213.45" x2="540.20" y2="213.45" stroke="#2b2b2b" stroke-width="0.4" />
<line x1="633.12" y1="292.40" x2="633.12" y2="293.60" stroke="#2b2b2b" stroke-width="0.4" />
<line x1="539.00" y1="206.77" x2="540.20" y2="206.77" stroke="#2b2b2b" stroke-width="0.4" />
<line x1="638.74" y1="292.40" x2="638.74" y2="293.60" stroke="#2b2b2b" stroke-width="0.4" />
<line x1="539.00" y1="201.59" x2="540.20" y2="201.59" stroke="#2b2b2b" stroke-width="0.4" />
<line x1="643.33" y1="292.40" x2="643.33" y2="293.60" stroke="#2b2b2b" stroke-width="0.4" />
<line x1="539.00" y1="197.36" x2="540.20" y2="197.36" stroke="#2b2b2b" stroke-width="0.4" />
<line x1="647.22" y1="292.40" x2="647.22" y2="293.60" stroke="#2b2b2b" stroke-width="0.4" />
<line x1="539.00" y1="193.78" x2="540.20" y2="193.78" stroke="#2b2b2b" stroke-width="0.4" />
<line x1="650.58" y1="292.40" x2="650.58" y2="293.60" stroke="#2b2b2b" stroke-width="0.4" />
<line x1="539.00" y1="190.68" x2="540.20" y2="190.68" stroke="#2b2b2b" stroke-width="0.4" />
<line x1="653.55" y1="292.40" x2="653.55" y2="293.60" stroke="#2b2b2b" stroke-width="0.4" />
<line x1="539.00" y1="187.95" x2="540.20" y2="187.95" stroke="#2b2b2b" stroke-width="0.4" />
<line x1="540.20" y1="292.40" x2="540.20" y2="294.40" stroke="#2b2b2b" stroke-width="0.6" />
<line x1="538.20" y1="292.40" x2="540.20" y2="292.40" stroke="#2b2b2b" stroke-width="0.6" />
<text x="540.50" y="302.00" font-family='"Liberation Sans", Arial, Helvetica, sans-serif' font-size="7.1" fill="#222" text-anchor="middle"  >10<tspan dy="-3.0" font-size="66%">-1</tspan><tspan dy="3.0" font-size="1">&#8203;</tspan></text>
<text x="537.70" y="297.30" font-family='"Liberation Sans", Arial, Helvetica, sans-serif' font-size="7.1" fill="#222" text-anchor="end"  >10<tspan dy="-3.0" font-size="66%">-1</tspan><tspan dy="3.0" font-size="1">&#8203;</tspan></text>
<line x1="598.20" y1="292.40" x2="598.20" y2="294.40" stroke="#2b2b2b" stroke-width="0.6" />
<line x1="538.20" y1="238.95" x2="540.20" y2="238.95" stroke="#2b2b2b" stroke-width="0.6" />
<text x="598.50" y="302.00" font-family='"Liberation Sans", Arial, Helvetica, sans-serif' font-size="7.1" fill="#222" text-anchor="middle"  >10<tspan dy="-3.0" font-size="66%">0</tspan><tspan dy="3.0" font-size="1">&#8203;</tspan></text>
<text x="537.70" y="243.85" font-family='"Liberation Sans", Arial, Helvetica, sans-serif' font-size="7.1" fill="#222" text-anchor="end"  >10<tspan dy="-3.0" font-size="66%">0</tspan><tspan dy="3.0" font-size="1">&#8203;</tspan></text>
<line x1="656.20" y1="292.40" x2="656.20" y2="294.40" stroke="#2b2b2b" stroke-width="0.6" />
<line x1="538.20" y1="185.50" x2="540.20" y2="185.50" stroke="#2b2b2b" stroke-width="0.6" />
<text x="656.50" y="302.00" font-family='"Liberation Sans", Arial, Helvetica, sans-serif' font-size="7.1" fill="#222" text-anchor="middle"  >10<tspan dy="-3.0" font-size="66%">1</tspan><tspan dy="3.0" font-size="1">&#8203;</tspan></text>
<text x="537.70" y="190.40" font-family='"Liberation Sans", Arial, Helvetica, sans-serif' font-size="7.1" fill="#222" text-anchor="end"  >10<tspan dy="-3.0" font-size="66%">1</tspan><tspan dy="3.0" font-size="1">&#8203;</tspan></text>
<text x="598.00" y="308.60" font-family='"Liberation Serif", "DejaVu Serif", serif' font-size="7.5" fill="#111" text-anchor="middle" font-style="italic"  stroke="#111" stroke-width="0.2">α</text>
<text transform="translate(524.3,238.8) rotate(-90)" font-family='"Liberation Serif", "DejaVu Serif", serif' font-style="italic" font-size="7.5" fill="#111" text-anchor="middle">β</text>
<text x="553.00" y="209.60" font-family='"Liberation Serif", "DejaVu Serif", serif' font-size="7.5" fill="#111" text-anchor="start" font-style="italic" textLength="35.2" stroke="#111" stroke-width="0.08">O<tspan dy="1.4" font-size="76%">target</tspan><tspan dy="-1.4" font-size="1">&#8203;</tspan> ≤ 0</text>
<text x="603.60" y="282.50" font-family='"Liberation Serif", "DejaVu Serif", serif' font-size="7.5" fill="#111" text-anchor="start" font-style="italic" textLength="46.8" stroke="#111" stroke-width="0.08">O<tspan dy="1.4" font-size="76%">off−target</tspan><tspan dy="-1.4" font-size="1">&#8203;</tspan> ≥ 0</text>
<text transform="translate(585.9,243.0) rotate(-42.2)" font-family='"Liberation Sans", Arial, Helvetica, sans-serif' font-size="6.3" fill="#fff" text-anchor="middle" textLength="43">functional area</text>
<text transform="translate(595.6999999999999,251.01500000000001) rotate(-42.2)" font-family='"Liberation Serif", "DejaVu Serif", serif' font-style="italic" font-size="7.4" fill="#111" stroke="#111" stroke-width="0.08" text-anchor="middle" textLength="86">O<tspan dy="1.4" font-size="76%">target</tspan><tspan dy="-1.4" font-size="1">&#8203;</tspan> ≥ 0 &amp; O<tspan dy="1.4" font-size="76%">off−target</tspan><tspan dy="-1.4" font-size="1">&#8203;</tspan> ≤ 0</text>
<circle cx="626.30" cy="229.40" r="1.30" fill="#f6b0a0" stroke="#e8302a" stroke-width="0.7"/>
<linearGradient id="cbf" x1="0" y1="1" x2="0" y2="0"><stop offset="0.0000" stop-color="#626eb6"/><stop offset="0.0625" stop-color="#6d7cc0"/><stop offset="0.1250" stop-color="#788ac9"/><stop offset="0.1875" stop-color="#879ad3"/><stop offset="0.2500" stop-color="#98aadc"/><stop offset="0.3125" stop-color="#aabae3"/><stop offset="0.3750" stop-color="#bdc9e8"/><stop offset="0.4375" stop-color="#d0d6e7"/><stop offset="0.5000" stop-color="#e3dedf"/><stop offset="0.5625" stop-color="#edd4cb"/><stop offset="0.6250" stop-color="#f1c6b7"/><stop offset="0.6875" stop-color="#f2b6a3"/><stop offset="0.7500" stop-color="#ec9f8c"/><stop offset="0.8125" stop-color="#e58573"/><stop offset="0.8750" stop-color="#d76f61"/><stop offset="0.9375" stop-color="#c85850"/><stop offset="1.0000" stop-color="#ba4644"/></linearGradient>
<rect x="663.30" y="185.50" width="5.40" height="106.90" fill="url(#cbf)" stroke="#2b2b2b" stroke-width="0.6" rx="0" />
<line x1="668.70" y1="292.40" x2="670.30" y2="292.40" stroke="#2b2b2b" stroke-width="0.5" />
<text x="672.00" y="294.80" font-family='"Liberation Sans", Arial, Helvetica, sans-serif' font-size="6.8" fill="#222" text-anchor="start"  >0</text>
<line x1="668.70" y1="279.87" x2="670.30" y2="279.87" stroke="#2b2b2b" stroke-width="0.5" />
<text x="672.00" y="282.27" font-family='"Liberation Sans", Arial, Helvetica, sans-serif' font-size="6.8" fill="#222" text-anchor="start"  >1</text>
<line x1="668.70" y1="267.34" x2="670.30" y2="267.34" stroke="#2b2b2b" stroke-width="0.5" />
<text x="672.00" y="269.74" font-family='"Liberation Sans", Arial, Helvetica, sans-serif' font-size="6.8" fill="#222" text-anchor="start"  >2</text>
<line x1="668.70" y1="254.80" x2="670.30" y2="254.80" stroke="#2b2b2b" stroke-width="0.5" />
<text x="672.00" y="257.20" font-family='"Liberation Sans", Arial, Helvetica, sans-serif' font-size="6.8" fill="#222" text-anchor="start"  >3</text>
<line x1="668.70" y1="242.27" x2="670.30" y2="242.27" stroke="#2b2b2b" stroke-width="0.5" />
<text x="672.00" y="244.67" font-family='"Liberation Sans", Arial, Helvetica, sans-serif' font-size="6.8" fill="#222" text-anchor="start"  >4</text>
<line x1="668.70" y1="229.74" x2="670.30" y2="229.74" stroke="#2b2b2b" stroke-width="0.5" />
<text x="672.00" y="232.14" font-family='"Liberation Sans", Arial, Helvetica, sans-serif' font-size="6.8" fill="#222" text-anchor="start"  >5</text>
<line x1="668.70" y1="217.21" x2="670.30" y2="217.21" stroke="#2b2b2b" stroke-width="0.5" />
<text x="672.00" y="219.61" font-family='"Liberation Sans", Arial, Helvetica, sans-serif' font-size="6.8" fill="#222" text-anchor="start"  >6</text>
<line x1="668.70" y1="204.67" x2="670.30" y2="204.67" stroke="#2b2b2b" stroke-width="0.5" />
<text x="672.00" y="207.07" font-family='"Liberation Sans", Arial, Helvetica, sans-serif' font-size="6.8" fill="#222" text-anchor="start"  >7</text>
<line x1="668.70" y1="192.14" x2="670.30" y2="192.14" stroke="#2b2b2b" stroke-width="0.5" />
<text x="672.00" y="194.54" font-family='"Liberation Sans", Arial, Helvetica, sans-serif' font-size="6.8" fill="#222" text-anchor="start"  >8</text>
<text transform="translate(678.6,239.3) rotate(90)" font-family='"Liberation Sans", Arial, Helvetica, sans-serif' font-size="8" fill="#222" text-anchor="middle">SNR</text>
</svg>
</body></html>
